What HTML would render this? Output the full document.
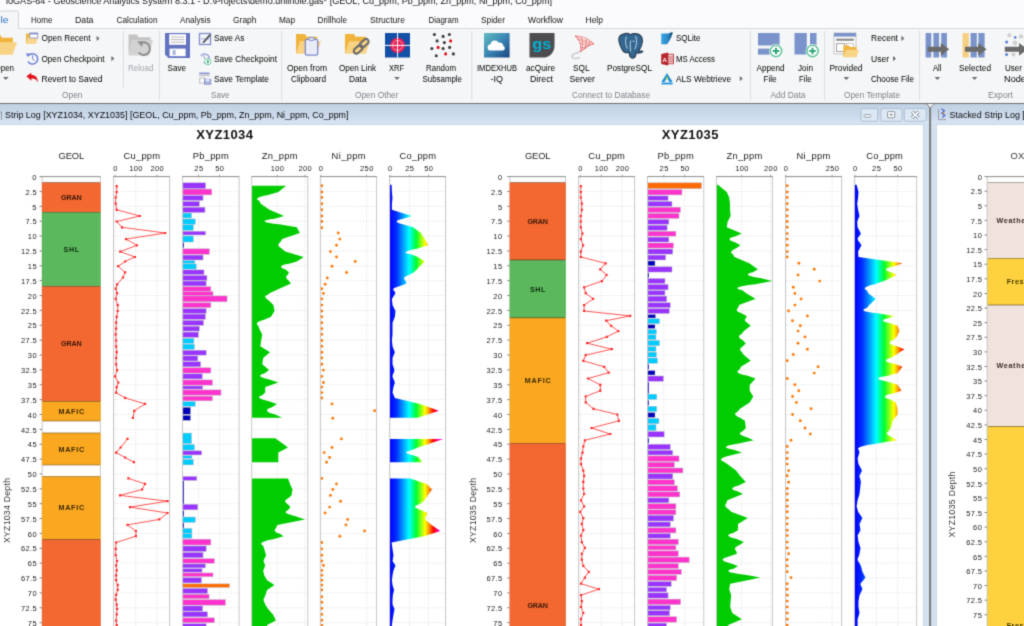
<!DOCTYPE html>
<html><head><meta charset="utf-8"><title>ioGAS</title>
<style>html,body{margin:0;padding:0;background:#fff;overflow:hidden}svg{display:block}</style></head><body>
<svg width="1024" height="626" viewBox="0 0 1024 626" font-family="'Liberation Sans', Arial, sans-serif">
<defs>
<filter id="soft" x="0" y="0" width="1024" height="626" filterUnits="userSpaceOnUse" color-interpolation-filters="sRGB"><feConvolveMatrix order="3" kernelMatrix="0.0225 0.1050 0.0225 0.1050 0.4900 0.1050 0.0225 0.1050 0.0225" edgeMode="duplicate" preserveAlpha="true"/></filter>
<linearGradient id="tb" gradientUnits="userSpaceOnUse" x1="0" y1="104" x2="0" y2="125"><stop offset="0" stop-color="#c0d1e4"/><stop offset="0.5" stop-color="#cad9ea"/><stop offset="0.92" stop-color="#d6e3f2"/><stop offset="1" stop-color="#cfdeee"/></linearGradient>
<linearGradient id="co1" gradientUnits="userSpaceOnUse" x1="390" y1="0" x2="443.9" y2="0">
<stop offset="0" stop-color="#0000ff"/><stop offset="0.12" stop-color="#0030ff"/><stop offset="0.357" stop-color="#00ffff"/><stop offset="0.486" stop-color="#00ff30"/><stop offset="0.65" stop-color="#ffff00"/><stop offset="0.72" stop-color="#ff9900"/><stop offset="0.81" stop-color="#ff0000"/><stop offset="0.92" stop-color="#ff00cc"/><stop offset="1" stop-color="#ff00ff"/></linearGradient>
<linearGradient id="co2" gradientUnits="userSpaceOnUse" x1="855.1" y1="0" x2="914.7" y2="0">
<stop offset="0" stop-color="#0000ff"/><stop offset="0.12" stop-color="#0030ff"/><stop offset="0.357" stop-color="#00ffff"/><stop offset="0.486" stop-color="#00ff30"/><stop offset="0.65" stop-color="#ffff00"/><stop offset="0.72" stop-color="#ff9900"/><stop offset="0.81" stop-color="#ff0000"/><stop offset="0.92" stop-color="#ff00cc"/><stop offset="1" stop-color="#ff00ff"/></linearGradient>
<linearGradient id="imdex" x1="0" y1="0" x2="1" y2="1"><stop offset="0" stop-color="#62bcc0"/><stop offset="0.5" stop-color="#3a86b4"/><stop offset="1" stop-color="#1b467f"/></linearGradient>
<linearGradient id="sqlite" x1="0" y1="0" x2="1" y2="0"><stop offset="0" stop-color="#3aa6e6"/><stop offset="0.6" stop-color="#2a86c4"/><stop offset="1" stop-color="#0d3f5f"/></linearGradient>
</defs>
<g filter="url(#soft)">
<rect x="0" y="0" width="1024" height="626" fill="#ffffff"/>
<rect x="0" y="0" width="1024" height="29" fill="#fbfbfd"/>
<rect x="0" y="28.5" width="1024" height="75" fill="#f5f6f7"/>
<rect x="18" y="28" width="1006" height="1" fill="#d6d9de"/>
<path d="M-2 29 V12.5 a1.5 1.5 0 0 1 1.5 -1.5 H17 a1.5 1.5 0 0 1 1.5 1.5 V29" fill="#f5f6f7" stroke="#d0d4da" stroke-width="1"/>
<text x="6" y="3.5" font-size="9.6" fill="#111" textLength="546" lengthAdjust="spacingAndGlyphs">ioGAS-64 - Geoscience Analytics System 8.3.1 - D:\Projects\demo.drillhole.gas*  [GEOL, Cu_ppm, Pb_ppm, Zn_ppm, Ni_ppm, Co_ppm]</text>
<text x="0.6" y="23.29" font-size="8.3" fill="#2b6fc4" textLength="8" lengthAdjust="spacingAndGlyphs">le</text>
<text x="31" y="23.29" font-size="8.3" fill="#141414" textLength="21.5" lengthAdjust="spacingAndGlyphs">Home</text>
<text x="75" y="23.29" font-size="8.3" fill="#141414" textLength="18.5" lengthAdjust="spacingAndGlyphs">Data</text>
<text x="116.5" y="23.29" font-size="8.3" fill="#141414" textLength="41" lengthAdjust="spacingAndGlyphs">Calculation</text>
<text x="180" y="23.29" font-size="8.3" fill="#141414" textLength="30.5" lengthAdjust="spacingAndGlyphs">Analysis</text>
<text x="233" y="23.29" font-size="8.3" fill="#141414" textLength="23.5" lengthAdjust="spacingAndGlyphs">Graph</text>
<text x="279" y="23.29" font-size="8.3" fill="#141414" textLength="16" lengthAdjust="spacingAndGlyphs">Map</text>
<text x="317.5" y="23.29" font-size="8.3" fill="#141414" textLength="29.5" lengthAdjust="spacingAndGlyphs">Drillhole</text>
<text x="370" y="23.29" font-size="8.3" fill="#141414" textLength="35" lengthAdjust="spacingAndGlyphs">Structure</text>
<text x="428.5" y="23.29" font-size="8.3" fill="#141414" textLength="30" lengthAdjust="spacingAndGlyphs">Diagram</text>
<text x="481" y="23.29" font-size="8.3" fill="#141414" textLength="24" lengthAdjust="spacingAndGlyphs">Spider</text>
<text x="528" y="23.29" font-size="8.3" fill="#141414" textLength="35" lengthAdjust="spacingAndGlyphs">Workflow</text>
<text x="585.5" y="23.29" font-size="8.3" fill="#141414" textLength="17.5" lengthAdjust="spacingAndGlyphs">Help</text>
<line x1="123.3" y1="31" x2="123.3" y2="87.5" stroke="#dcdde0" stroke-width="1"/>
<line x1="159.4" y1="31" x2="159.4" y2="100.5" stroke="#dcdde0" stroke-width="1"/>
<line x1="281.7" y1="31" x2="281.7" y2="100.5" stroke="#dcdde0" stroke-width="1"/>
<line x1="471.8" y1="31" x2="471.8" y2="100.5" stroke="#dcdde0" stroke-width="1"/>
<line x1="750.5" y1="31" x2="750.5" y2="100.5" stroke="#dcdde0" stroke-width="1"/>
<line x1="824.6" y1="31" x2="824.6" y2="100.5" stroke="#dcdde0" stroke-width="1"/>
<line x1="919.5" y1="31" x2="919.5" y2="100.5" stroke="#dcdde0" stroke-width="1"/>
<text x="62" y="97.99" font-size="8.3" fill="#7f828c" textLength="20.5" lengthAdjust="spacingAndGlyphs">Open</text>
<text x="211" y="97.99" font-size="8.3" fill="#7f828c" textLength="18.5" lengthAdjust="spacingAndGlyphs">Save</text>
<text x="355" y="97.99" font-size="8.3" fill="#7f828c" textLength="43.5" lengthAdjust="spacingAndGlyphs">Open Other</text>
<text x="572" y="97.99" font-size="8.3" fill="#7f828c" textLength="78" lengthAdjust="spacingAndGlyphs">Connect to Database</text>
<text x="770.5" y="97.99" font-size="8.3" fill="#7f828c" textLength="35" lengthAdjust="spacingAndGlyphs">Add Data</text>
<text x="844" y="97.99" font-size="8.3" fill="#7f828c" textLength="56" lengthAdjust="spacingAndGlyphs">Open Template</text>
<text x="988" y="97.99" font-size="8.3" fill="#7f828c" textLength="25" lengthAdjust="spacingAndGlyphs">Export</text>
<path d="M-9 35 h9.36 l1.56 2.8 h10.92 v16.4 h-21.84 z" fill="#f0b43c"/>
<path d="M-4.84 42.2 h21.84 l-4.42 12.4 h-21.58 z" fill="#f9d384"/>
<text x="-5.5" y="70.99" font-size="8.3" fill="#000" textLength="19.5" lengthAdjust="spacingAndGlyphs">Open</text>
<path d="M3 77.1 h5.6 l-2.8 3 z" fill="#6e6e6e"/>
<path d="M26 33.5 h4.32 l0.72 1.47 h5.04 v8.61 h-10.08 z" fill="#eeb440"/>
<path d="M27.92 37.28 h10.08 l-2.04 6.51 h-9.96 z" fill="#f8d68c"/>
<rect x="29.8" y="33" width="8" height="5" fill="#fff" stroke="#7f8cc9" stroke-width="0.8"/>
<rect x="30" y="33" width="7.8" height="1.4" fill="#7f8cc9"/>
<text x="41.5" y="41.29" font-size="8.3" fill="#000" textLength="49" lengthAdjust="spacingAndGlyphs">Open Recent</text>
<path d="M96.6 35.8 l3 2.6 l-3 2.6 z" fill="#6e6e6e"/>
<g fill="none" stroke="#6f82d8" stroke-width="1.5"><path d="M28.5 55.5 A5.2 5.2 0 1 1 28 61.5"/><path d="M32.6 55.2 v3.8 l2 1.6" stroke-width="1"/></g><path d="M26 53.2 l4.2 0.6 l-2.6 3.4 z" fill="#6f82d8"/>
<text x="41.5" y="61.59" font-size="8.3" fill="#000" textLength="63" lengthAdjust="spacingAndGlyphs">Open Checkpoint</text>
<path d="M111.4 56 l3 2.6 l-3 2.6 z" fill="#6e6e6e"/>
<path d="M26.4 76.2 l5 -3.4 v2.2 c4 0 6.6 2.4 6.4 7.6 c-1 -3 -3 -4.4 -6.4 -4.2 v2.4 z" fill="#e0141e"/>
<text x="41.5" y="81.59" font-size="8.3" fill="#000" textLength="61" lengthAdjust="spacingAndGlyphs">Revert to Saved</text>
<path d="M128.5 34.5 h8.5 l1.5 2.8 h12 v3 h-18 l-4 14 z" fill="#c4c4c4"/><path d="M131.5 40 h21.5 l-4.2 15.5 h-20.3 z" fill="#d2d2d2"/>
<path d="M140.5 43.2 A6.3 6.3 0 1 1 138.6 52.5" fill="none" stroke="#8e8e8e" stroke-width="2"/><path d="M137.2 41.5 l5.8 -0.2 l-1 5.6 z" fill="#8e8e8e"/>
<text x="128" y="70.99" font-size="8.3" fill="#a3a3ad" textLength="25.5" lengthAdjust="spacingAndGlyphs">Reload</text>
<path d="M165 33 h25 v25 h-21.5 l-3.5 -3.5 z" fill="#6373c0"/>
<rect x="169.2" y="34.2" width="16.8" height="10.6" fill="#fff"/>
<line x1="171" y1="37" x2="184.4" y2="37" stroke="#9a9a9a" stroke-width="0.7"/>
<line x1="171" y1="39.6" x2="184.4" y2="39.6" stroke="#9a9a9a" stroke-width="0.7"/>
<line x1="171" y1="42.2" x2="184.4" y2="42.2" stroke="#9a9a9a" stroke-width="0.7"/>
<rect x="169.6" y="48.6" width="16" height="7.6" fill="#fff"/>
<rect x="172.6" y="50" width="3" height="5" fill="#aab2dc"/>
<text x="167.5" y="70.99" font-size="8.3" fill="#000" textLength="18.5" lengthAdjust="spacingAndGlyphs">Save</text>
<rect x="199.5" y="33.5" width="11" height="11" fill="#f4f5fb" stroke="#7f8cc9" stroke-width="1.3"/>
<rect x="201" y="38.5" width="8" height="0.9" fill="#9aa4d6"/>
<path d="M203 41.5 l6.6 -7.4 l1.4 1.2 l-6.6 7.4 l-2 0.6 z" fill="#555"/>
<text x="214" y="41.29" font-size="8.3" fill="#000" textLength="30.5" lengthAdjust="spacingAndGlyphs">Save As</text>
<path d="M200.8 56.2 A4.4 4.4 0 1 1 203.4 62.6" fill="none" stroke="#8e9ad6" stroke-width="1.3"/><path d="M204 55 v3 l1.6 1" stroke="#8e9ad6" stroke-width="0.9" fill="none"/><circle cx="207.8" cy="61.6" r="3.1" fill="#fff" stroke="#6cc79c" stroke-width="1"/><rect x="207" y="59.9" width="1.7" height="3.4" fill="#3dab7e"/>
<text x="214" y="61.59" font-size="8.3" fill="#000" textLength="63" lengthAdjust="spacingAndGlyphs">Save Checkpoint</text>
<rect x="199.2" y="72.6" width="10.4" height="1.6" fill="#7f8cc9"/>
<rect x="199.2" y="75.2" width="10.4" height="0.8" fill="#aaa"/>
<rect x="199.8" y="78" width="5" height="5" fill="#fff" stroke="#aaa" stroke-width="0.8"/>
<rect x="204.4" y="79.2" width="6.4" height="5" fill="#a9b3e2" stroke="#7f8cc9" stroke-width="0.8"/>
<rect x="205.8" y="79.2" width="3.6" height="2" fill="#eef"/>
<text x="214" y="81.59" font-size="8.3" fill="#000" textLength="55" lengthAdjust="spacingAndGlyphs">Save Template</text>
<path d="M296 34 h9 l1.5 2.8 h10.5 v16.4 h-21 z" fill="#f0b43c"/>
<path d="M300 41.2 h21 l-4.25 12.4 h-20.75 z" fill="#f9d384"/>
<rect x="305.3" y="39.3" width="12.4" height="15.8" rx="1.6" fill="#e9ebf7" stroke="#7c89cb" stroke-width="1.3"/><rect x="309" y="37.4" width="5" height="3" rx="1" fill="#e9ebf7" stroke="#7c89cb" stroke-width="1"/>
<text x="287" y="70.99" font-size="8.3" fill="#000" textLength="40" lengthAdjust="spacingAndGlyphs">Open from</text>
<text x="291" y="81.59" font-size="8.3" fill="#000" textLength="35" lengthAdjust="spacingAndGlyphs">Clipboard</text>
<path d="M345 34 h9 l1.5 2.8 h10.5 v16.4 h-21 z" fill="#f0b43c"/>
<path d="M349 41.2 h21 l-4.25 12.4 h-20.75 z" fill="#f9d384"/>
<g fill="none" stroke="#6b6b6b" stroke-width="2.1"><rect x="-5" y="-2.6" width="10" height="5.2" rx="2.6" transform="translate(364.2 43.2) rotate(-42)"/><rect x="-5" y="-2.6" width="10" height="5.2" rx="2.6" transform="translate(358.2 49.4) rotate(-42)"/></g>
<text x="339" y="70.99" font-size="8.3" fill="#000" textLength="37" lengthAdjust="spacingAndGlyphs">Open Link</text>
<text x="349" y="81.59" font-size="8.3" fill="#000" textLength="17.5" lengthAdjust="spacingAndGlyphs">Data</text>
<rect x="385" y="33" width="25" height="24.5" fill="#134fa6"/>
<circle cx="397.6" cy="45.4" r="7.6" fill="#e91e55"/><circle cx="397.6" cy="45.4" r="5" fill="none" stroke="#f7a6bd" stroke-width="0.8"/>
<line x1="385" y1="45.4" x2="410" y2="45.4" stroke="#fff" stroke-width="1"/>
<line x1="397.6" y1="33" x2="397.6" y2="57.5" stroke="#fff" stroke-width="1"/>
<text x="389" y="70.99" font-size="8.3" fill="#000" textLength="15" lengthAdjust="spacingAndGlyphs">XRF</text>
<path d="M394.2 77.1 h5.6 l-2.8 3 z" fill="#6e6e6e"/>
<circle cx="434.38" cy="34.5" r="1.55" fill="#3c3c3c"/>
<circle cx="443.12" cy="36.38" r="1.55" fill="#3c3c3c"/>
<circle cx="449.38" cy="34.5" r="1.55" fill="#3c3c3c"/>
<circle cx="437.12" cy="40.88" r="1.55" fill="#3c3c3c"/>
<circle cx="444.38" cy="42.62" r="1.55" fill="#3c3c3c"/>
<circle cx="431.88" cy="48.62" r="1.55" fill="#3c3c3c"/>
<circle cx="443.12" cy="48.62" r="1.55" fill="#3c3c3c"/>
<circle cx="449.62" cy="47.38" r="1.55" fill="#3c3c3c"/>
<circle cx="436.25" cy="55.75" r="1.55" fill="#3c3c3c"/>
<circle cx="453.38" cy="53.88" r="1.55" fill="#3c3c3c"/>
<circle cx="450.62" cy="40.88" r="1.55" fill="#e0101a"/>
<circle cx="438.12" cy="47.38" r="1.55" fill="#e0101a"/>
<circle cx="445.62" cy="53.88" r="1.55" fill="#e0101a"/>
<text x="426" y="70.99" font-size="8.3" fill="#000" textLength="30" lengthAdjust="spacingAndGlyphs">Random</text>
<text x="422.5" y="81.59" font-size="8.3" fill="#000" textLength="39.5" lengthAdjust="spacingAndGlyphs">Subsample</text>
<rect x="484" y="33" width="25.6" height="24.5" fill="url(#imdex)"/>
<path d="M490 50.6 a3.2 3.2 0 0 1 0.6 -6.3 a4.4 4.4 0 0 1 8.2 -1.6 a3.6 3.6 0 0 1 4.6 3.4 a2.4 2.4 0 0 1 -0.4 4.5 z" fill="#fff"/>
<text x="477" y="70.99" font-size="8.3" fill="#000" textLength="40" lengthAdjust="spacingAndGlyphs">IMDEXHUB</text>
<text x="490.5" y="81.59" font-size="8.3" fill="#000" textLength="12.5" lengthAdjust="spacingAndGlyphs">-IQ</text>
<path d="M529.5 33 h25 v13 a11.5 11.5 0 0 1 -11.5 11.5 h-13.5 z" fill="#4d4d4f"/>
<text x="532.3" y="48.6" font-size="15.5" fill="#00b1d6" textLength="19" lengthAdjust="spacingAndGlyphs" font-weight="bold">gs</text>
<text x="526" y="70.99" font-size="8.3" fill="#000" textLength="29" lengthAdjust="spacingAndGlyphs">acQuire</text>
<text x="530" y="81.59" font-size="8.3" fill="#000" textLength="23" lengthAdjust="spacingAndGlyphs">Direct</text>
<g fill="none" stroke="#dd4a48" stroke-width="0.6" opacity="0.95"><path d="M575 36 c8 0 14 3 19 8 c-6 1 -11 5 -14 8 c2 -6 0 -12 -5 -16 z" fill="#fdf1f0"/><path d="M575 36 c5 3 11 5 19 8 M577 39 c4 2 9 4 14 6 M579 43 c3 1 6 2 10 3 M580 47 c2 0 4 1 6 1 M581 37 c2 4 2 10 0 15 M586 38.5 c1 3 0 8 -3 12 M590 41 c0 2 -2 5 -5 8"/></g>
<path d="M580 52 c-5 1 -9 3 -8 5 c1 2 5 1.5 8 0.6" fill="none" stroke="#c9ccd6" stroke-width="1.6"/>
<text x="573" y="70.99" font-size="8.3" fill="#000" textLength="16.5" lengthAdjust="spacingAndGlyphs">SQL</text>
<text x="569.5" y="81.59" font-size="8.3" fill="#000" textLength="25.5" lengthAdjust="spacingAndGlyphs">Server</text>
<path d="M619.5 36.5 c3 -3.5 8 -3.8 11 -1.8 c3.6 -2.2 9.6 -1.2 11.4 3 c1.4 4 -0.6 9.6 -3.2 13 c1.2 0.6 3.2 0.2 4 0.6 c-1.2 1.8 -4.4 2.2 -6.4 1.2 c-0.6 2.2 -0.4 5.4 -3.4 5.6 c-2.8 0.2 -3.6 -2.6 -3.6 -6 c-3 1.4 -6 0.4 -7.4 -3 c-1.8 -3.6 -4.2 -9 -2.4 -12.6 z" fill="#336791" stroke="#2c3e55" stroke-width="1.2"/>
<path d="M626.4 36.6 c-1.6 3.4 -0.8 8.4 1 12 M635.6 36 c1.6 3.6 1.2 9 -0.8 13.2 M630.6 40.6 c-0.6 3.6 -0.4 7.6 0 11 M632.4 41.4 c1 -0.6 1.8 -0.4 2.4 0.4" fill="none" stroke="#e4ecf5" stroke-width="0.8"/>
<text x="607" y="70.99" font-size="8.3" fill="#000" textLength="45" lengthAdjust="spacingAndGlyphs">PostgreSQL</text>
<path d="M661.2 33.4 h7.2 c1.6 -0.6 3.2 -1.4 4.4 -1.2 c-0.6 3.2 -2.6 7.8 -5.2 11.4 l-0.6 0.6 h-5.8 z" fill="url(#sqlite)"/>
<text x="676" y="41.29" font-size="8.3" fill="#000" textLength="24.5" lengthAdjust="spacingAndGlyphs">SQLite</text>
<path d="M661.2 54 l7 -1.6 v13.2 l-7 -1.6 z" fill="#b7282e"/><rect x="668" y="54.2" width="5.6" height="9.6" fill="#f3d5d6" stroke="#b7282e" stroke-width="0.8"/>
<line x1="669" y1="57" x2="673" y2="57" stroke="#b7282e" stroke-width="0.7"/>
<line x1="669" y1="59.2" x2="673" y2="59.2" stroke="#b7282e" stroke-width="0.7"/>
<line x1="669" y1="61.4" x2="673" y2="61.4" stroke="#b7282e" stroke-width="0.7"/>
<text x="662.6" y="61.6" font-size="6" fill="#fff" font-weight="bold">A</text>
<text x="676" y="61.59" font-size="8.3" fill="#000" textLength="39" lengthAdjust="spacingAndGlyphs">MS Access</text>
<path d="M667 73 l5.6 9 h-3.2 l-2.4 -4.2 l-2.4 4.2 h-3.2 z" fill="#1f8fd6"/><path d="M667 75.6 l1.4 3.6 h-2.8 z" fill="#9bd14b"/><rect x="661.6" y="82.6" width="11" height="1.8" fill="#1f8fd6"/>
<text x="676" y="81.59" font-size="8.3" fill="#000" textLength="55" lengthAdjust="spacingAndGlyphs">ALS Webtrieve</text>
<path d="M739.8 76 l3 2.6 l-3 2.6 z" fill="#6e6e6e"/>
<rect x="758" y="33" width="21.6" height="12.5" fill="#7b93cb"/>
<rect x="758" y="48.6" width="21.6" height="6" fill="#7b93cb"/>
<circle cx="776" cy="51" r="7" fill="#fff"/><circle cx="776" cy="51" r="5.7" fill="#fff" stroke="#62c39b" stroke-width="1.6"/><path d="M772.8 50 h2.2 v-2.2 h2 v2.2 h2.2 v2 h-2.2 v2.2 h-2 v-2.2 h-2.2 z" fill="#2fa678"/>
<text x="756.5" y="70.99" font-size="8.3" fill="#000" textLength="28" lengthAdjust="spacingAndGlyphs">Append</text>
<text x="763.5" y="81.59" font-size="8.3" fill="#000" textLength="13" lengthAdjust="spacingAndGlyphs">File</text>
<rect x="794.5" y="33" width="12.3" height="21.5" fill="#7b93cb"/>
<rect x="810" y="33" width="6.5" height="21.5" fill="#7b93cb"/>
<circle cx="812.5" cy="51" r="7" fill="#fff"/><circle cx="812.5" cy="51" r="5.7" fill="#fff" stroke="#62c39b" stroke-width="1.6"/><path d="M809.3 50 h2.2 v-2.2 h2 v2.2 h2.2 v2 h-2.2 v2.2 h-2 v-2.2 h-2.2 z" fill="#2fa678"/>
<text x="798" y="70.99" font-size="8.3" fill="#000" textLength="15" lengthAdjust="spacingAndGlyphs">Join</text>
<text x="799" y="81.59" font-size="8.3" fill="#000" textLength="12.5" lengthAdjust="spacingAndGlyphs">File</text>
<rect x="834" y="33" width="22" height="21" fill="#fbfbfb" stroke="#b9b9b9" stroke-width="0.8"/>
<rect x="834" y="33" width="22" height="3.6" fill="#7b93cb"/>
<rect x="836.2" y="38.6" width="17.6" height="2.2" fill="#8c8c8c"/>
<rect x="836.6" y="43.6" width="8" height="8" fill="#fff" stroke="#9a9a9a" stroke-width="0.9"/>
<rect x="846.6" y="43.6" width="7" height="4" fill="#fff" stroke="#b5b5b5" stroke-width="0.7"/>
<path d="M843.4 45.4 h5.62 l0.94 1.68 h6.55 v9.84 h-13.1 z" fill="#eeb440"/>
<path d="M845.9 49.72 h13.1 l-2.65 7.44 h-12.95 z" fill="#f8d486"/>
<text x="829.5" y="70.99" font-size="8.3" fill="#000" textLength="33" lengthAdjust="spacingAndGlyphs">Provided</text>
<path d="M843.5 77.1 h5.6 l-2.8 3 z" fill="#6e6e6e"/>
<text x="871" y="41.29" font-size="8.3" fill="#000" textLength="27" lengthAdjust="spacingAndGlyphs">Recent</text>
<path d="M901.4 35.8 l3 2.6 l-3 2.6 z" fill="#6e6e6e"/>
<text x="871" y="61.59" font-size="8.3" fill="#000" textLength="18" lengthAdjust="spacingAndGlyphs">User</text>
<path d="M893 56 l3 2.6 l-3 2.6 z" fill="#6e6e6e"/>
<text x="871" y="81.59" font-size="8.3" fill="#000" textLength="43" lengthAdjust="spacingAndGlyphs">Choose File</text>
<rect x="925.6" y="33" width="5.7" height="24.5" fill="#7b93cb"/>
<rect x="933.4" y="33" width="5.7" height="24.5" fill="#7b93cb"/>
<rect x="941.2" y="33" width="5.7" height="24.5" fill="#7b93cb"/>
<path d="M927.6 46.8 H940.8 V42.9 L949.2 49.3 L940.8 55.7 V51.8 H927.6 z" fill="#6a6a6a"/>
<text x="933" y="70.99" font-size="8.3" fill="#000" textLength="8.5" lengthAdjust="spacingAndGlyphs">All</text>
<path d="M934.6 77.1 h5.6 l-2.8 3 z" fill="#6e6e6e"/>
<rect x="962.6" y="33" width="6.2" height="24.5" fill="#f6d081"/>
<rect x="970.6" y="33" width="6.2" height="24.5" fill="#7b93cb"/>
<rect x="978.4" y="33" width="6.2" height="24.5" fill="#7b93cb"/>
<path d="M965 46.8 H978.2 V42.9 L986.6 49.3 L978.2 55.7 V51.8 H965 z" fill="#6a6a6a"/>
<text x="959" y="70.99" font-size="8.3" fill="#000" textLength="32" lengthAdjust="spacingAndGlyphs">Selected</text>
<path d="M971.8 77.1 h5.6 l-2.8 3 z" fill="#6e6e6e"/>
<circle cx="1009.4" cy="35.2" r="2" fill="#cfcfcf"/>
<circle cx="1015.2" cy="37.4" r="1.3" fill="#5c7fd6"/>
<circle cx="1021" cy="36.4" r="2.2" fill="#cfcfcf"/>
<circle cx="1006.6" cy="42" r="1.5" fill="#5c7fd6"/>
<circle cx="1015" cy="43" r="2.4" fill="#cfcfcf"/>
<circle cx="1006.6" cy="54.6" r="1.5" fill="#5c7fd6"/>
<circle cx="1013.4" cy="54.6" r="2" fill="#cfcfcf"/>
<path d="M1004.8 46.8 H1019 V42.9 L1027.4 49.3 L1019 55.7 V51.8 H1004.8 z" fill="#6a6a6a"/>
<text x="1005" y="70.99" font-size="8.3" fill="#000" textLength="17" lengthAdjust="spacingAndGlyphs">User</text>
<text x="1004" y="81.59" font-size="8.3" fill="#000" textLength="22" lengthAdjust="spacingAndGlyphs">Node</text>
<path d="M-6 640 V109 a5 5 0 0 1 5 -5 H924.7 a5 5 0 0 1 5 5 V640 z" fill="url(#tb)"/>
<rect x="-6" y="124.8" width="935.5" height="520" fill="#d3e1f1"/>
<rect x="-1" y="124.4" width="924.6" height="520" fill="#b9c9db"/>
<rect x="0" y="124.9" width="923.1" height="520" fill="#ffffff"/>
<path d="M930.6 640 V109 a5 5 0 0 1 5 -5 H1040 V640 z" fill="url(#tb)"/>
<rect x="930.5" y="124.8" width="100" height="520" fill="#d3e1f1"/>
<rect x="936.1" y="124.4" width="100" height="520" fill="#b9c9db"/>
<rect x="936.7" y="124.9" width="100" height="520" fill="#ffffff"/>
<path d="M-6 103.5 H924.2 a5.5 5.5 0 0 1 5.5 5.5 V640" fill="none" stroke="#707070" stroke-width="1"/>
<path d="M1040 103.5 H936.1 a5.5 5.5 0 0 0 -5.5 5.5 V640" fill="none" stroke="#707070" stroke-width="1"/>
<line x1="0" y1="103.5" x2="1024" y2="103.5" stroke="#707070" stroke-width="1"/>
<path d="M926.6 104 q3.8 0.4 3.9 4.6 q0.1 -4.2 3.9 -4.6 z" fill="#fdfdfd"/>
<path d="M-1 112 l2.5 0 l0 8" fill="none" stroke="#8a8a8a" stroke-width="0.8"/>
<text x="5" y="118.4" font-size="9.2" fill="#0a0a0a" textLength="343.5" lengthAdjust="spacingAndGlyphs">Strip Log [XYZ1034, XYZ1035] [GEOL, Cu_ppm, Pb_ppm, Zn_ppm, Ni_ppm, Co_ppm]</text>
<path d="M941.4 108.6 l3 2.2 l-2.6 2.4 l3 2.2 l-2.4 2.2" fill="none" stroke="#3b50c8" stroke-width="1.1"/><path d="M938.6 109 v10.6 h7.4" fill="none" stroke="#8a8a8a" stroke-width="0.8"/><circle cx="943.6" cy="113" r="0.9" fill="#f0a020"/>
<text x="949.6" y="118.4" font-size="9.2" fill="#0a0a0a" textLength="114.8" lengthAdjust="spacingAndGlyphs">Stacked Strip Log [XYZ1035]</text>
<rect x="861" y="108.6" width="16.6" height="12.6" rx="2" fill="#dde8f5" stroke="#a9bbd0" stroke-width="0.9"/>
<rect x="880.8" y="108.6" width="21.2" height="12.6" rx="2" fill="#dde8f5" stroke="#a9bbd0" stroke-width="0.9"/>
<rect x="904.4" y="108.6" width="21.8" height="12.6" rx="2" fill="#dde8f5" stroke="#a9bbd0" stroke-width="0.9"/>
<rect x="864.2" y="114.6" width="6.4" height="2.6" rx="0.8" fill="#fdfdfd" stroke="#7d8a99" stroke-width="0.8"/>
<rect x="887.6" y="111.6" width="7.2" height="6.2" rx="0.8" fill="#fdfdfd" stroke="#7d8a99" stroke-width="0.9"/><rect x="889.8" y="113.8" width="2.8" height="1.6" fill="#7d8a99"/>
<path d="M912 111.6 l6.6 6.4 M918.6 111.6 l-6.6 6.4" stroke="#7d8a99" stroke-width="3.2" fill="none"/><path d="M912 111.6 l6.6 6.4 M918.6 111.6 l-6.6 6.4" stroke="#fdfdfd" stroke-width="1.7" fill="none"/>
<text x="196.3" y="139.3" font-size="13" fill="#111" textLength="56.6" lengthAdjust="spacing" font-weight="bold">XYZ1034</text>
<line x1="114" y1="191.47" x2="169.1" y2="191.47" stroke="#dcdcdc" stroke-width="0.7" stroke-dasharray="1.4 1.4"/>
<line x1="114" y1="206.33" x2="169.1" y2="206.33" stroke="#dcdcdc" stroke-width="0.7" stroke-dasharray="1.4 1.4"/>
<line x1="114" y1="221.2" x2="169.1" y2="221.2" stroke="#dcdcdc" stroke-width="0.7" stroke-dasharray="1.4 1.4"/>
<line x1="114" y1="236.07" x2="169.1" y2="236.07" stroke="#dcdcdc" stroke-width="0.7" stroke-dasharray="1.4 1.4"/>
<line x1="114" y1="250.94" x2="169.1" y2="250.94" stroke="#dcdcdc" stroke-width="0.7" stroke-dasharray="1.4 1.4"/>
<line x1="114" y1="265.81" x2="169.1" y2="265.81" stroke="#dcdcdc" stroke-width="0.7" stroke-dasharray="1.4 1.4"/>
<line x1="114" y1="280.67" x2="169.1" y2="280.67" stroke="#dcdcdc" stroke-width="0.7" stroke-dasharray="1.4 1.4"/>
<line x1="114" y1="295.54" x2="169.1" y2="295.54" stroke="#dcdcdc" stroke-width="0.7" stroke-dasharray="1.4 1.4"/>
<line x1="114" y1="310.41" x2="169.1" y2="310.41" stroke="#dcdcdc" stroke-width="0.7" stroke-dasharray="1.4 1.4"/>
<line x1="114" y1="325.27" x2="169.1" y2="325.27" stroke="#dcdcdc" stroke-width="0.7" stroke-dasharray="1.4 1.4"/>
<line x1="114" y1="340.14" x2="169.1" y2="340.14" stroke="#dcdcdc" stroke-width="0.7" stroke-dasharray="1.4 1.4"/>
<line x1="114" y1="355.01" x2="169.1" y2="355.01" stroke="#dcdcdc" stroke-width="0.7" stroke-dasharray="1.4 1.4"/>
<line x1="114" y1="369.88" x2="169.1" y2="369.88" stroke="#dcdcdc" stroke-width="0.7" stroke-dasharray="1.4 1.4"/>
<line x1="114" y1="384.75" x2="169.1" y2="384.75" stroke="#dcdcdc" stroke-width="0.7" stroke-dasharray="1.4 1.4"/>
<line x1="114" y1="399.61" x2="169.1" y2="399.61" stroke="#dcdcdc" stroke-width="0.7" stroke-dasharray="1.4 1.4"/>
<line x1="114" y1="414.48" x2="169.1" y2="414.48" stroke="#dcdcdc" stroke-width="0.7" stroke-dasharray="1.4 1.4"/>
<line x1="114" y1="429.35" x2="169.1" y2="429.35" stroke="#dcdcdc" stroke-width="0.7" stroke-dasharray="1.4 1.4"/>
<line x1="114" y1="444.22" x2="169.1" y2="444.22" stroke="#dcdcdc" stroke-width="0.7" stroke-dasharray="1.4 1.4"/>
<line x1="114" y1="459.08" x2="169.1" y2="459.08" stroke="#dcdcdc" stroke-width="0.7" stroke-dasharray="1.4 1.4"/>
<line x1="114" y1="473.95" x2="169.1" y2="473.95" stroke="#dcdcdc" stroke-width="0.7" stroke-dasharray="1.4 1.4"/>
<line x1="114" y1="488.82" x2="169.1" y2="488.82" stroke="#dcdcdc" stroke-width="0.7" stroke-dasharray="1.4 1.4"/>
<line x1="114" y1="503.68" x2="169.1" y2="503.68" stroke="#dcdcdc" stroke-width="0.7" stroke-dasharray="1.4 1.4"/>
<line x1="114" y1="518.55" x2="169.1" y2="518.55" stroke="#dcdcdc" stroke-width="0.7" stroke-dasharray="1.4 1.4"/>
<line x1="114" y1="533.42" x2="169.1" y2="533.42" stroke="#dcdcdc" stroke-width="0.7" stroke-dasharray="1.4 1.4"/>
<line x1="114" y1="548.29" x2="169.1" y2="548.29" stroke="#dcdcdc" stroke-width="0.7" stroke-dasharray="1.4 1.4"/>
<line x1="114" y1="563.15" x2="169.1" y2="563.15" stroke="#dcdcdc" stroke-width="0.7" stroke-dasharray="1.4 1.4"/>
<line x1="114" y1="578.02" x2="169.1" y2="578.02" stroke="#dcdcdc" stroke-width="0.7" stroke-dasharray="1.4 1.4"/>
<line x1="114" y1="592.89" x2="169.1" y2="592.89" stroke="#dcdcdc" stroke-width="0.7" stroke-dasharray="1.4 1.4"/>
<line x1="114" y1="607.76" x2="169.1" y2="607.76" stroke="#dcdcdc" stroke-width="0.7" stroke-dasharray="1.4 1.4"/>
<line x1="114" y1="622.62" x2="169.1" y2="622.62" stroke="#dcdcdc" stroke-width="0.7" stroke-dasharray="1.4 1.4"/>
<line x1="115.2" y1="177.1" x2="115.2" y2="626" stroke="#dcdcdc" stroke-width="0.7" stroke-dasharray="1.4 1.4"/>
<line x1="135.7" y1="177.1" x2="135.7" y2="626" stroke="#dcdcdc" stroke-width="0.7" stroke-dasharray="1.4 1.4"/>
<line x1="157" y1="177.1" x2="157" y2="626" stroke="#dcdcdc" stroke-width="0.7" stroke-dasharray="1.4 1.4"/>
<line x1="183" y1="191.47" x2="238.6" y2="191.47" stroke="#dcdcdc" stroke-width="0.7" stroke-dasharray="1.4 1.4"/>
<line x1="183" y1="206.33" x2="238.6" y2="206.33" stroke="#dcdcdc" stroke-width="0.7" stroke-dasharray="1.4 1.4"/>
<line x1="183" y1="221.2" x2="238.6" y2="221.2" stroke="#dcdcdc" stroke-width="0.7" stroke-dasharray="1.4 1.4"/>
<line x1="183" y1="236.07" x2="238.6" y2="236.07" stroke="#dcdcdc" stroke-width="0.7" stroke-dasharray="1.4 1.4"/>
<line x1="183" y1="250.94" x2="238.6" y2="250.94" stroke="#dcdcdc" stroke-width="0.7" stroke-dasharray="1.4 1.4"/>
<line x1="183" y1="265.81" x2="238.6" y2="265.81" stroke="#dcdcdc" stroke-width="0.7" stroke-dasharray="1.4 1.4"/>
<line x1="183" y1="280.67" x2="238.6" y2="280.67" stroke="#dcdcdc" stroke-width="0.7" stroke-dasharray="1.4 1.4"/>
<line x1="183" y1="295.54" x2="238.6" y2="295.54" stroke="#dcdcdc" stroke-width="0.7" stroke-dasharray="1.4 1.4"/>
<line x1="183" y1="310.41" x2="238.6" y2="310.41" stroke="#dcdcdc" stroke-width="0.7" stroke-dasharray="1.4 1.4"/>
<line x1="183" y1="325.27" x2="238.6" y2="325.27" stroke="#dcdcdc" stroke-width="0.7" stroke-dasharray="1.4 1.4"/>
<line x1="183" y1="340.14" x2="238.6" y2="340.14" stroke="#dcdcdc" stroke-width="0.7" stroke-dasharray="1.4 1.4"/>
<line x1="183" y1="355.01" x2="238.6" y2="355.01" stroke="#dcdcdc" stroke-width="0.7" stroke-dasharray="1.4 1.4"/>
<line x1="183" y1="369.88" x2="238.6" y2="369.88" stroke="#dcdcdc" stroke-width="0.7" stroke-dasharray="1.4 1.4"/>
<line x1="183" y1="384.75" x2="238.6" y2="384.75" stroke="#dcdcdc" stroke-width="0.7" stroke-dasharray="1.4 1.4"/>
<line x1="183" y1="399.61" x2="238.6" y2="399.61" stroke="#dcdcdc" stroke-width="0.7" stroke-dasharray="1.4 1.4"/>
<line x1="183" y1="414.48" x2="238.6" y2="414.48" stroke="#dcdcdc" stroke-width="0.7" stroke-dasharray="1.4 1.4"/>
<line x1="183" y1="429.35" x2="238.6" y2="429.35" stroke="#dcdcdc" stroke-width="0.7" stroke-dasharray="1.4 1.4"/>
<line x1="183" y1="444.22" x2="238.6" y2="444.22" stroke="#dcdcdc" stroke-width="0.7" stroke-dasharray="1.4 1.4"/>
<line x1="183" y1="459.08" x2="238.6" y2="459.08" stroke="#dcdcdc" stroke-width="0.7" stroke-dasharray="1.4 1.4"/>
<line x1="183" y1="473.95" x2="238.6" y2="473.95" stroke="#dcdcdc" stroke-width="0.7" stroke-dasharray="1.4 1.4"/>
<line x1="183" y1="488.82" x2="238.6" y2="488.82" stroke="#dcdcdc" stroke-width="0.7" stroke-dasharray="1.4 1.4"/>
<line x1="183" y1="503.68" x2="238.6" y2="503.68" stroke="#dcdcdc" stroke-width="0.7" stroke-dasharray="1.4 1.4"/>
<line x1="183" y1="518.55" x2="238.6" y2="518.55" stroke="#dcdcdc" stroke-width="0.7" stroke-dasharray="1.4 1.4"/>
<line x1="183" y1="533.42" x2="238.6" y2="533.42" stroke="#dcdcdc" stroke-width="0.7" stroke-dasharray="1.4 1.4"/>
<line x1="183" y1="548.29" x2="238.6" y2="548.29" stroke="#dcdcdc" stroke-width="0.7" stroke-dasharray="1.4 1.4"/>
<line x1="183" y1="563.15" x2="238.6" y2="563.15" stroke="#dcdcdc" stroke-width="0.7" stroke-dasharray="1.4 1.4"/>
<line x1="183" y1="578.02" x2="238.6" y2="578.02" stroke="#dcdcdc" stroke-width="0.7" stroke-dasharray="1.4 1.4"/>
<line x1="183" y1="592.89" x2="238.6" y2="592.89" stroke="#dcdcdc" stroke-width="0.7" stroke-dasharray="1.4 1.4"/>
<line x1="183" y1="607.76" x2="238.6" y2="607.76" stroke="#dcdcdc" stroke-width="0.7" stroke-dasharray="1.4 1.4"/>
<line x1="183" y1="622.62" x2="238.6" y2="622.62" stroke="#dcdcdc" stroke-width="0.7" stroke-dasharray="1.4 1.4"/>
<line x1="198.6" y1="177.1" x2="198.6" y2="626" stroke="#dcdcdc" stroke-width="0.7" stroke-dasharray="1.4 1.4"/>
<line x1="219.5" y1="177.1" x2="219.5" y2="626" stroke="#dcdcdc" stroke-width="0.7" stroke-dasharray="1.4 1.4"/>
<line x1="252.2" y1="191.47" x2="307.3" y2="191.47" stroke="#dcdcdc" stroke-width="0.7" stroke-dasharray="1.4 1.4"/>
<line x1="252.2" y1="206.33" x2="307.3" y2="206.33" stroke="#dcdcdc" stroke-width="0.7" stroke-dasharray="1.4 1.4"/>
<line x1="252.2" y1="221.2" x2="307.3" y2="221.2" stroke="#dcdcdc" stroke-width="0.7" stroke-dasharray="1.4 1.4"/>
<line x1="252.2" y1="236.07" x2="307.3" y2="236.07" stroke="#dcdcdc" stroke-width="0.7" stroke-dasharray="1.4 1.4"/>
<line x1="252.2" y1="250.94" x2="307.3" y2="250.94" stroke="#dcdcdc" stroke-width="0.7" stroke-dasharray="1.4 1.4"/>
<line x1="252.2" y1="265.81" x2="307.3" y2="265.81" stroke="#dcdcdc" stroke-width="0.7" stroke-dasharray="1.4 1.4"/>
<line x1="252.2" y1="280.67" x2="307.3" y2="280.67" stroke="#dcdcdc" stroke-width="0.7" stroke-dasharray="1.4 1.4"/>
<line x1="252.2" y1="295.54" x2="307.3" y2="295.54" stroke="#dcdcdc" stroke-width="0.7" stroke-dasharray="1.4 1.4"/>
<line x1="252.2" y1="310.41" x2="307.3" y2="310.41" stroke="#dcdcdc" stroke-width="0.7" stroke-dasharray="1.4 1.4"/>
<line x1="252.2" y1="325.27" x2="307.3" y2="325.27" stroke="#dcdcdc" stroke-width="0.7" stroke-dasharray="1.4 1.4"/>
<line x1="252.2" y1="340.14" x2="307.3" y2="340.14" stroke="#dcdcdc" stroke-width="0.7" stroke-dasharray="1.4 1.4"/>
<line x1="252.2" y1="355.01" x2="307.3" y2="355.01" stroke="#dcdcdc" stroke-width="0.7" stroke-dasharray="1.4 1.4"/>
<line x1="252.2" y1="369.88" x2="307.3" y2="369.88" stroke="#dcdcdc" stroke-width="0.7" stroke-dasharray="1.4 1.4"/>
<line x1="252.2" y1="384.75" x2="307.3" y2="384.75" stroke="#dcdcdc" stroke-width="0.7" stroke-dasharray="1.4 1.4"/>
<line x1="252.2" y1="399.61" x2="307.3" y2="399.61" stroke="#dcdcdc" stroke-width="0.7" stroke-dasharray="1.4 1.4"/>
<line x1="252.2" y1="414.48" x2="307.3" y2="414.48" stroke="#dcdcdc" stroke-width="0.7" stroke-dasharray="1.4 1.4"/>
<line x1="252.2" y1="429.35" x2="307.3" y2="429.35" stroke="#dcdcdc" stroke-width="0.7" stroke-dasharray="1.4 1.4"/>
<line x1="252.2" y1="444.22" x2="307.3" y2="444.22" stroke="#dcdcdc" stroke-width="0.7" stroke-dasharray="1.4 1.4"/>
<line x1="252.2" y1="459.08" x2="307.3" y2="459.08" stroke="#dcdcdc" stroke-width="0.7" stroke-dasharray="1.4 1.4"/>
<line x1="252.2" y1="473.95" x2="307.3" y2="473.95" stroke="#dcdcdc" stroke-width="0.7" stroke-dasharray="1.4 1.4"/>
<line x1="252.2" y1="488.82" x2="307.3" y2="488.82" stroke="#dcdcdc" stroke-width="0.7" stroke-dasharray="1.4 1.4"/>
<line x1="252.2" y1="503.68" x2="307.3" y2="503.68" stroke="#dcdcdc" stroke-width="0.7" stroke-dasharray="1.4 1.4"/>
<line x1="252.2" y1="518.55" x2="307.3" y2="518.55" stroke="#dcdcdc" stroke-width="0.7" stroke-dasharray="1.4 1.4"/>
<line x1="252.2" y1="533.42" x2="307.3" y2="533.42" stroke="#dcdcdc" stroke-width="0.7" stroke-dasharray="1.4 1.4"/>
<line x1="252.2" y1="548.29" x2="307.3" y2="548.29" stroke="#dcdcdc" stroke-width="0.7" stroke-dasharray="1.4 1.4"/>
<line x1="252.2" y1="563.15" x2="307.3" y2="563.15" stroke="#dcdcdc" stroke-width="0.7" stroke-dasharray="1.4 1.4"/>
<line x1="252.2" y1="578.02" x2="307.3" y2="578.02" stroke="#dcdcdc" stroke-width="0.7" stroke-dasharray="1.4 1.4"/>
<line x1="252.2" y1="592.89" x2="307.3" y2="592.89" stroke="#dcdcdc" stroke-width="0.7" stroke-dasharray="1.4 1.4"/>
<line x1="252.2" y1="607.76" x2="307.3" y2="607.76" stroke="#dcdcdc" stroke-width="0.7" stroke-dasharray="1.4 1.4"/>
<line x1="252.2" y1="622.62" x2="307.3" y2="622.62" stroke="#dcdcdc" stroke-width="0.7" stroke-dasharray="1.4 1.4"/>
<line x1="277.3" y1="177.1" x2="277.3" y2="626" stroke="#dcdcdc" stroke-width="0.7" stroke-dasharray="1.4 1.4"/>
<line x1="305" y1="177.1" x2="305" y2="626" stroke="#dcdcdc" stroke-width="0.7" stroke-dasharray="1.4 1.4"/>
<line x1="320.9" y1="191.47" x2="376.1" y2="191.47" stroke="#dcdcdc" stroke-width="0.7" stroke-dasharray="1.4 1.4"/>
<line x1="320.9" y1="206.33" x2="376.1" y2="206.33" stroke="#dcdcdc" stroke-width="0.7" stroke-dasharray="1.4 1.4"/>
<line x1="320.9" y1="221.2" x2="376.1" y2="221.2" stroke="#dcdcdc" stroke-width="0.7" stroke-dasharray="1.4 1.4"/>
<line x1="320.9" y1="236.07" x2="376.1" y2="236.07" stroke="#dcdcdc" stroke-width="0.7" stroke-dasharray="1.4 1.4"/>
<line x1="320.9" y1="250.94" x2="376.1" y2="250.94" stroke="#dcdcdc" stroke-width="0.7" stroke-dasharray="1.4 1.4"/>
<line x1="320.9" y1="265.81" x2="376.1" y2="265.81" stroke="#dcdcdc" stroke-width="0.7" stroke-dasharray="1.4 1.4"/>
<line x1="320.9" y1="280.67" x2="376.1" y2="280.67" stroke="#dcdcdc" stroke-width="0.7" stroke-dasharray="1.4 1.4"/>
<line x1="320.9" y1="295.54" x2="376.1" y2="295.54" stroke="#dcdcdc" stroke-width="0.7" stroke-dasharray="1.4 1.4"/>
<line x1="320.9" y1="310.41" x2="376.1" y2="310.41" stroke="#dcdcdc" stroke-width="0.7" stroke-dasharray="1.4 1.4"/>
<line x1="320.9" y1="325.27" x2="376.1" y2="325.27" stroke="#dcdcdc" stroke-width="0.7" stroke-dasharray="1.4 1.4"/>
<line x1="320.9" y1="340.14" x2="376.1" y2="340.14" stroke="#dcdcdc" stroke-width="0.7" stroke-dasharray="1.4 1.4"/>
<line x1="320.9" y1="355.01" x2="376.1" y2="355.01" stroke="#dcdcdc" stroke-width="0.7" stroke-dasharray="1.4 1.4"/>
<line x1="320.9" y1="369.88" x2="376.1" y2="369.88" stroke="#dcdcdc" stroke-width="0.7" stroke-dasharray="1.4 1.4"/>
<line x1="320.9" y1="384.75" x2="376.1" y2="384.75" stroke="#dcdcdc" stroke-width="0.7" stroke-dasharray="1.4 1.4"/>
<line x1="320.9" y1="399.61" x2="376.1" y2="399.61" stroke="#dcdcdc" stroke-width="0.7" stroke-dasharray="1.4 1.4"/>
<line x1="320.9" y1="414.48" x2="376.1" y2="414.48" stroke="#dcdcdc" stroke-width="0.7" stroke-dasharray="1.4 1.4"/>
<line x1="320.9" y1="429.35" x2="376.1" y2="429.35" stroke="#dcdcdc" stroke-width="0.7" stroke-dasharray="1.4 1.4"/>
<line x1="320.9" y1="444.22" x2="376.1" y2="444.22" stroke="#dcdcdc" stroke-width="0.7" stroke-dasharray="1.4 1.4"/>
<line x1="320.9" y1="459.08" x2="376.1" y2="459.08" stroke="#dcdcdc" stroke-width="0.7" stroke-dasharray="1.4 1.4"/>
<line x1="320.9" y1="473.95" x2="376.1" y2="473.95" stroke="#dcdcdc" stroke-width="0.7" stroke-dasharray="1.4 1.4"/>
<line x1="320.9" y1="488.82" x2="376.1" y2="488.82" stroke="#dcdcdc" stroke-width="0.7" stroke-dasharray="1.4 1.4"/>
<line x1="320.9" y1="503.68" x2="376.1" y2="503.68" stroke="#dcdcdc" stroke-width="0.7" stroke-dasharray="1.4 1.4"/>
<line x1="320.9" y1="518.55" x2="376.1" y2="518.55" stroke="#dcdcdc" stroke-width="0.7" stroke-dasharray="1.4 1.4"/>
<line x1="320.9" y1="533.42" x2="376.1" y2="533.42" stroke="#dcdcdc" stroke-width="0.7" stroke-dasharray="1.4 1.4"/>
<line x1="320.9" y1="548.29" x2="376.1" y2="548.29" stroke="#dcdcdc" stroke-width="0.7" stroke-dasharray="1.4 1.4"/>
<line x1="320.9" y1="563.15" x2="376.1" y2="563.15" stroke="#dcdcdc" stroke-width="0.7" stroke-dasharray="1.4 1.4"/>
<line x1="320.9" y1="578.02" x2="376.1" y2="578.02" stroke="#dcdcdc" stroke-width="0.7" stroke-dasharray="1.4 1.4"/>
<line x1="320.9" y1="592.89" x2="376.1" y2="592.89" stroke="#dcdcdc" stroke-width="0.7" stroke-dasharray="1.4 1.4"/>
<line x1="320.9" y1="607.76" x2="376.1" y2="607.76" stroke="#dcdcdc" stroke-width="0.7" stroke-dasharray="1.4 1.4"/>
<line x1="320.9" y1="622.62" x2="376.1" y2="622.62" stroke="#dcdcdc" stroke-width="0.7" stroke-dasharray="1.4 1.4"/>
<line x1="320.8" y1="177.1" x2="320.8" y2="626" stroke="#dcdcdc" stroke-width="0.7" stroke-dasharray="1.4 1.4"/>
<line x1="366.6" y1="177.1" x2="366.6" y2="626" stroke="#dcdcdc" stroke-width="0.7" stroke-dasharray="1.4 1.4"/>
<line x1="390.1" y1="191.47" x2="445.1" y2="191.47" stroke="#dcdcdc" stroke-width="0.7" stroke-dasharray="1.4 1.4"/>
<line x1="390.1" y1="206.33" x2="445.1" y2="206.33" stroke="#dcdcdc" stroke-width="0.7" stroke-dasharray="1.4 1.4"/>
<line x1="390.1" y1="221.2" x2="445.1" y2="221.2" stroke="#dcdcdc" stroke-width="0.7" stroke-dasharray="1.4 1.4"/>
<line x1="390.1" y1="236.07" x2="445.1" y2="236.07" stroke="#dcdcdc" stroke-width="0.7" stroke-dasharray="1.4 1.4"/>
<line x1="390.1" y1="250.94" x2="445.1" y2="250.94" stroke="#dcdcdc" stroke-width="0.7" stroke-dasharray="1.4 1.4"/>
<line x1="390.1" y1="265.81" x2="445.1" y2="265.81" stroke="#dcdcdc" stroke-width="0.7" stroke-dasharray="1.4 1.4"/>
<line x1="390.1" y1="280.67" x2="445.1" y2="280.67" stroke="#dcdcdc" stroke-width="0.7" stroke-dasharray="1.4 1.4"/>
<line x1="390.1" y1="295.54" x2="445.1" y2="295.54" stroke="#dcdcdc" stroke-width="0.7" stroke-dasharray="1.4 1.4"/>
<line x1="390.1" y1="310.41" x2="445.1" y2="310.41" stroke="#dcdcdc" stroke-width="0.7" stroke-dasharray="1.4 1.4"/>
<line x1="390.1" y1="325.27" x2="445.1" y2="325.27" stroke="#dcdcdc" stroke-width="0.7" stroke-dasharray="1.4 1.4"/>
<line x1="390.1" y1="340.14" x2="445.1" y2="340.14" stroke="#dcdcdc" stroke-width="0.7" stroke-dasharray="1.4 1.4"/>
<line x1="390.1" y1="355.01" x2="445.1" y2="355.01" stroke="#dcdcdc" stroke-width="0.7" stroke-dasharray="1.4 1.4"/>
<line x1="390.1" y1="369.88" x2="445.1" y2="369.88" stroke="#dcdcdc" stroke-width="0.7" stroke-dasharray="1.4 1.4"/>
<line x1="390.1" y1="384.75" x2="445.1" y2="384.75" stroke="#dcdcdc" stroke-width="0.7" stroke-dasharray="1.4 1.4"/>
<line x1="390.1" y1="399.61" x2="445.1" y2="399.61" stroke="#dcdcdc" stroke-width="0.7" stroke-dasharray="1.4 1.4"/>
<line x1="390.1" y1="414.48" x2="445.1" y2="414.48" stroke="#dcdcdc" stroke-width="0.7" stroke-dasharray="1.4 1.4"/>
<line x1="390.1" y1="429.35" x2="445.1" y2="429.35" stroke="#dcdcdc" stroke-width="0.7" stroke-dasharray="1.4 1.4"/>
<line x1="390.1" y1="444.22" x2="445.1" y2="444.22" stroke="#dcdcdc" stroke-width="0.7" stroke-dasharray="1.4 1.4"/>
<line x1="390.1" y1="459.08" x2="445.1" y2="459.08" stroke="#dcdcdc" stroke-width="0.7" stroke-dasharray="1.4 1.4"/>
<line x1="390.1" y1="473.95" x2="445.1" y2="473.95" stroke="#dcdcdc" stroke-width="0.7" stroke-dasharray="1.4 1.4"/>
<line x1="390.1" y1="488.82" x2="445.1" y2="488.82" stroke="#dcdcdc" stroke-width="0.7" stroke-dasharray="1.4 1.4"/>
<line x1="390.1" y1="503.68" x2="445.1" y2="503.68" stroke="#dcdcdc" stroke-width="0.7" stroke-dasharray="1.4 1.4"/>
<line x1="390.1" y1="518.55" x2="445.1" y2="518.55" stroke="#dcdcdc" stroke-width="0.7" stroke-dasharray="1.4 1.4"/>
<line x1="390.1" y1="533.42" x2="445.1" y2="533.42" stroke="#dcdcdc" stroke-width="0.7" stroke-dasharray="1.4 1.4"/>
<line x1="390.1" y1="548.29" x2="445.1" y2="548.29" stroke="#dcdcdc" stroke-width="0.7" stroke-dasharray="1.4 1.4"/>
<line x1="390.1" y1="563.15" x2="445.1" y2="563.15" stroke="#dcdcdc" stroke-width="0.7" stroke-dasharray="1.4 1.4"/>
<line x1="390.1" y1="578.02" x2="445.1" y2="578.02" stroke="#dcdcdc" stroke-width="0.7" stroke-dasharray="1.4 1.4"/>
<line x1="390.1" y1="592.89" x2="445.1" y2="592.89" stroke="#dcdcdc" stroke-width="0.7" stroke-dasharray="1.4 1.4"/>
<line x1="390.1" y1="607.76" x2="445.1" y2="607.76" stroke="#dcdcdc" stroke-width="0.7" stroke-dasharray="1.4 1.4"/>
<line x1="390.1" y1="622.62" x2="445.1" y2="622.62" stroke="#dcdcdc" stroke-width="0.7" stroke-dasharray="1.4 1.4"/>
<line x1="390" y1="177.1" x2="390" y2="626" stroke="#dcdcdc" stroke-width="0.7" stroke-dasharray="1.4 1.4"/>
<line x1="409.5" y1="177.1" x2="409.5" y2="626" stroke="#dcdcdc" stroke-width="0.7" stroke-dasharray="1.4 1.4"/>
<line x1="428.5" y1="177.1" x2="428.5" y2="626" stroke="#dcdcdc" stroke-width="0.7" stroke-dasharray="1.4 1.4"/>
<polyline fill="none" stroke="#ff2a2a" stroke-width="0.8" stroke-linejoin="round" points="116.7,186.1 116.7,192 115.7,197.5 115.7,203.7 116.7,209.8 139.8,216 116.7,221.5 122,227.3 165.2,233 126.1,239.1 136.8,245.3 120.2,251.6 134.9,257 125.1,261.5 118.1,266.2 125.1,272.3 123,277.5 117.1,284.4 115.7,288.7 117.1,293.2 115.7,298.9 117.7,305.1 117.7,311 116.7,316.8 116.1,322.7 116.1,328.7 115.7,334.4 116.1,340.5 116.1,346.3 116.7,352.2 116.1,358 116.1,364.3 117.1,370.1 115.2,376.4 118.3,382.5 116.7,387.1 116.1,392.6 125.1,397.9 145,403.9 134.3,410.8 132.9,417.8"/>
<path fill="#ff2a2a" d="M115.6 185h2.2v2.2h-2.2zM115.6 190.9h2.2v2.2h-2.2zM114.6 196.4h2.2v2.2h-2.2zM114.6 202.6h2.2v2.2h-2.2zM115.6 208.7h2.2v2.2h-2.2zM138.7 214.9h2.2v2.2h-2.2zM115.6 220.4h2.2v2.2h-2.2zM120.9 226.2h2.2v2.2h-2.2zM164.1 231.9h2.2v2.2h-2.2zM125 238h2.2v2.2h-2.2zM135.7 244.2h2.2v2.2h-2.2zM119.1 250.5h2.2v2.2h-2.2zM133.8 255.9h2.2v2.2h-2.2zM124 260.4h2.2v2.2h-2.2zM117 265.1h2.2v2.2h-2.2zM124 271.2h2.2v2.2h-2.2zM121.9 276.4h2.2v2.2h-2.2zM116 283.3h2.2v2.2h-2.2zM114.6 287.6h2.2v2.2h-2.2zM116 292.1h2.2v2.2h-2.2zM114.6 297.8h2.2v2.2h-2.2zM116.6 304h2.2v2.2h-2.2zM116.6 309.9h2.2v2.2h-2.2zM115.6 315.7h2.2v2.2h-2.2zM115 321.6h2.2v2.2h-2.2zM115 327.6h2.2v2.2h-2.2zM114.6 333.3h2.2v2.2h-2.2zM115 339.4h2.2v2.2h-2.2zM115 345.2h2.2v2.2h-2.2zM115.6 351.1h2.2v2.2h-2.2zM115 356.9h2.2v2.2h-2.2zM115 363.2h2.2v2.2h-2.2zM116 369h2.2v2.2h-2.2zM114.1 375.3h2.2v2.2h-2.2zM117.2 381.4h2.2v2.2h-2.2zM115.6 386h2.2v2.2h-2.2zM115 391.5h2.2v2.2h-2.2zM124 396.8h2.2v2.2h-2.2zM143.9 402.8h2.2v2.2h-2.2zM133.2 409.7h2.2v2.2h-2.2zM131.8 416.7h2.2v2.2h-2.2z"/>
<polyline fill="none" stroke="#ff2a2a" stroke-width="0.8" stroke-linejoin="round" points="127.5,438.9 120.6,447.5 116.1,452.6 125.1,457.5 133.9,462.2"/>
<path fill="#ff2a2a" d="M126.4 437.8h2.2v2.2h-2.2zM119.5 446.4h2.2v2.2h-2.2zM115 451.5h2.2v2.2h-2.2zM124 456.4h2.2v2.2h-2.2zM132.8 461.1h2.2v2.2h-2.2z"/>
<polyline fill="none" stroke="#ff2a2a" stroke-width="0.8" stroke-linejoin="round" points="128.4,478.4 145,483.9 142.1,489.5 120,495.4 167.5,501.2 130,507.1 167.5,513 159.3,519.4 127.5,524.9 135.9,531 135.9,536.2 116.1,542.5 115.7,548.9 115.7,555.2 117.1,561 116.1,565.5 116.7,570.4 116.1,575.3 116.1,580.2 117.7,585.1 117.7,589.9 116.1,594.8 115.7,599.7 116.7,604.6 117.1,608.9 116.7,614.4 116.1,620.6 116.7,625.1"/>
<path fill="#ff2a2a" d="M127.3 477.3h2.2v2.2h-2.2zM143.9 482.8h2.2v2.2h-2.2zM141 488.4h2.2v2.2h-2.2zM118.9 494.3h2.2v2.2h-2.2zM166.4 500.1h2.2v2.2h-2.2zM128.9 506h2.2v2.2h-2.2zM166.4 511.9h2.2v2.2h-2.2zM158.2 518.3h2.2v2.2h-2.2zM126.4 523.8h2.2v2.2h-2.2zM134.8 529.9h2.2v2.2h-2.2zM134.8 535.1h2.2v2.2h-2.2zM115 541.4h2.2v2.2h-2.2zM114.6 547.8h2.2v2.2h-2.2zM114.6 554.1h2.2v2.2h-2.2zM116 559.9h2.2v2.2h-2.2zM115 564.4h2.2v2.2h-2.2zM115.6 569.3h2.2v2.2h-2.2zM115 574.2h2.2v2.2h-2.2zM115 579.1h2.2v2.2h-2.2zM116.6 584h2.2v2.2h-2.2zM116.6 588.8h2.2v2.2h-2.2zM115 593.7h2.2v2.2h-2.2zM114.6 598.6h2.2v2.2h-2.2zM115.6 603.5h2.2v2.2h-2.2zM116 607.8h2.2v2.2h-2.2zM115.6 613.3h2.2v2.2h-2.2zM115 619.5h2.2v2.2h-2.2zM115.6 624h2.2v2.2h-2.2z"/>
<rect x="182.9" y="182.81" width="22.69" height="5.86" fill="#9933ff" stroke="#b9b9c4" stroke-width="0.5"/>
<rect x="182.9" y="189.06" width="28.94" height="5.86" fill="#ff33cc" stroke="#b9b9c4" stroke-width="0.5"/>
<rect x="182.9" y="195.51" width="20.15" height="4.88" fill="#9933ff" stroke="#b9b9c4" stroke-width="0.5"/>
<rect x="182.9" y="201.37" width="16.44" height="4.88" fill="#9933ff" stroke="#b9b9c4" stroke-width="0.5"/>
<rect x="182.9" y="207.23" width="22.1" height="5.27" fill="#9933ff" stroke="#b9b9c4" stroke-width="0.5"/>
<rect x="182.9" y="213.09" width="8.62" height="4.88" fill="#00ccff" stroke="#b9b9c4" stroke-width="0.5"/>
<rect x="182.9" y="218.95" width="12.33" height="5.27" fill="#00ccff" stroke="#b9b9c4" stroke-width="0.5"/>
<rect x="182.9" y="224.8" width="10.38" height="5.47" fill="#00ccff" stroke="#b9b9c4" stroke-width="0.5"/>
<rect x="182.9" y="231.25" width="22.69" height="3.71" fill="#9933ff" stroke="#b9b9c4" stroke-width="0.5"/>
<rect x="182.9" y="235.94" width="10.38" height="6.05" fill="#00ccff" stroke="#b9b9c4" stroke-width="0.5"/>
<rect x="182.7" y="242.77" width="1.3" height="4.88" fill="#3a3acc"/>
<rect x="182.9" y="248.83" width="26.59" height="5.47" fill="#ff33cc" stroke="#b9b9c4" stroke-width="0.5"/>
<rect x="182.9" y="255.08" width="20.15" height="4.88" fill="#9933ff" stroke="#b9b9c4" stroke-width="0.5"/>
<rect x="182.9" y="260.55" width="11.94" height="2.73" fill="#00ccff" stroke="#b9b9c4" stroke-width="0.5"/>
<rect x="182.9" y="263.87" width="13.31" height="5.27" fill="#00ccff" stroke="#b9b9c4" stroke-width="0.5"/>
<rect x="182.9" y="269.92" width="21.12" height="4.69" fill="#9933ff" stroke="#b9b9c4" stroke-width="0.5"/>
<rect x="182.9" y="275.39" width="24.05" height="5.08" fill="#9933ff" stroke="#b9b9c4" stroke-width="0.5"/>
<rect x="182.9" y="281.05" width="23.27" height="4.88" fill="#9933ff" stroke="#b9b9c4" stroke-width="0.5"/>
<rect x="182.9" y="286.72" width="27.96" height="4.49" fill="#ff33cc" stroke="#b9b9c4" stroke-width="0.5"/>
<rect x="182.9" y="291.6" width="30.11" height="4.1" fill="#ff33cc" stroke="#b9b9c4" stroke-width="0.5"/>
<rect x="182.9" y="295.93" width="44.17" height="5.86" fill="#ff33cc" stroke="#b9b9c4" stroke-width="0.5"/>
<rect x="182.9" y="302.77" width="27.96" height="4.88" fill="#ff33cc" stroke="#b9b9c4" stroke-width="0.5"/>
<rect x="182.9" y="308.62" width="23.27" height="4.88" fill="#9933ff" stroke="#b9b9c4" stroke-width="0.5"/>
<rect x="182.9" y="314.09" width="22.49" height="5.27" fill="#9933ff" stroke="#b9b9c4" stroke-width="0.5"/>
<rect x="182.9" y="320.34" width="20.73" height="4.88" fill="#9933ff" stroke="#b9b9c4" stroke-width="0.5"/>
<rect x="182.9" y="326.2" width="16.44" height="4.88" fill="#9933ff" stroke="#b9b9c4" stroke-width="0.5"/>
<rect x="182.9" y="332.06" width="15.46" height="5.27" fill="#9933ff" stroke="#b9b9c4" stroke-width="0.5"/>
<rect x="182.9" y="338.31" width="10.97" height="5.08" fill="#00ccff" stroke="#b9b9c4" stroke-width="0.5"/>
<rect x="182.9" y="344.17" width="11.55" height="5.08" fill="#00ccff" stroke="#b9b9c4" stroke-width="0.5"/>
<rect x="182.9" y="350.23" width="23.27" height="4.88" fill="#9933ff" stroke="#b9b9c4" stroke-width="0.5"/>
<rect x="182.9" y="355.89" width="14.87" height="5.08" fill="#9933ff" stroke="#b9b9c4" stroke-width="0.5"/>
<rect x="182.9" y="361.75" width="17.8" height="5.08" fill="#9933ff" stroke="#b9b9c4" stroke-width="0.5"/>
<rect x="182.9" y="367.8" width="27.96" height="5.27" fill="#ff33cc" stroke="#b9b9c4" stroke-width="0.5"/>
<rect x="182.9" y="373.86" width="19.37" height="5.08" fill="#9933ff" stroke="#b9b9c4" stroke-width="0.5"/>
<rect x="182.9" y="379.91" width="29.52" height="5.27" fill="#ff33cc" stroke="#b9b9c4" stroke-width="0.5"/>
<rect x="182.9" y="385.97" width="19.76" height="3.12" fill="#9933ff" stroke="#b9b9c4" stroke-width="0.5"/>
<rect x="182.9" y="389.88" width="38.12" height="5.27" fill="#ff33cc" stroke="#b9b9c4" stroke-width="0.5"/>
<rect x="182.9" y="396.12" width="29.52" height="4.69" fill="#ff33cc" stroke="#b9b9c4" stroke-width="0.5"/>
<rect x="182.9" y="401.59" width="12.33" height="4.69" fill="#00ccff" stroke="#b9b9c4" stroke-width="0.5"/>
<rect x="182.9" y="407.26" width="7.65" height="7.03" fill="#0000b8" stroke="#b9b9c4" stroke-width="0.5"/>
<rect x="182.9" y="415.3" width="7.65" height="5.08" fill="#0000b8" stroke="#b9b9c4" stroke-width="0.5"/>
<rect x="182.9" y="433.07" width="8.62" height="10.55" fill="#00ccff" stroke="#b9b9c4" stroke-width="0.5"/>
<rect x="182.9" y="444.59" width="11.55" height="5.47" fill="#00ccff" stroke="#b9b9c4" stroke-width="0.5"/>
<rect x="182.9" y="450.84" width="18.78" height="4.1" fill="#9933ff" stroke="#b9b9c4" stroke-width="0.5"/>
<rect x="182.9" y="455.73" width="9.01" height="2.73" fill="#00ccff" stroke="#b9b9c4" stroke-width="0.5"/>
<rect x="182.9" y="459.44" width="10.38" height="5.47" fill="#00ccff" stroke="#b9b9c4" stroke-width="0.5"/>
<rect x="182.9" y="476.43" width="13.9" height="3.91" fill="#9933ff" stroke="#b9b9c4" stroke-width="0.5"/>
<rect x="182.7" y="480.92" width="1.3" height="22.85" fill="#3a3acc"/>
<rect x="182.9" y="504.36" width="14.87" height="5.47" fill="#9933ff" stroke="#b9b9c4" stroke-width="0.5"/>
<rect x="182.7" y="510.61" width="1.3" height="5.86" fill="#3a3acc"/>
<rect x="182.9" y="517.05" width="12.33" height="5.27" fill="#00ccff" stroke="#b9b9c4" stroke-width="0.5"/>
<rect x="182.7" y="522.91" width="1.3" height="4.88" fill="#3a3acc"/>
<rect x="182.9" y="528.41" width="9.01" height="4.88" fill="#00ccff" stroke="#b9b9c4" stroke-width="0.5"/>
<rect x="182.9" y="533.69" width="9.01" height="4.49" fill="#00ccff" stroke="#b9b9c4" stroke-width="0.5"/>
<rect x="182.9" y="539.16" width="27.96" height="5.86" fill="#ff33cc" stroke="#b9b9c4" stroke-width="0.5"/>
<rect x="182.9" y="545.99" width="23.27" height="5.47" fill="#9933ff" stroke="#b9b9c4" stroke-width="0.5"/>
<rect x="182.9" y="552.44" width="20.15" height="5.27" fill="#9933ff" stroke="#b9b9c4" stroke-width="0.5"/>
<rect x="182.9" y="558.69" width="31.47" height="4.49" fill="#ff33cc" stroke="#b9b9c4" stroke-width="0.5"/>
<rect x="182.9" y="563.96" width="22.49" height="3.91" fill="#9933ff" stroke="#b9b9c4" stroke-width="0.5"/>
<rect x="182.9" y="568.65" width="19.17" height="3.52" fill="#9933ff" stroke="#b9b9c4" stroke-width="0.5"/>
<rect x="182.9" y="572.95" width="30.11" height="3.71" fill="#ff33cc" stroke="#b9b9c4" stroke-width="0.5"/>
<rect x="182.9" y="577.63" width="18.58" height="5.27" fill="#9933ff" stroke="#b9b9c4" stroke-width="0.5"/>
<rect x="182.9" y="583.88" width="46.71" height="3.52" fill="#ff6a00" stroke="#b9b9c4" stroke-width="0.5"/>
<rect x="182.9" y="588.38" width="24.64" height="5.08" fill="#9933ff" stroke="#b9b9c4" stroke-width="0.5"/>
<rect x="182.9" y="594.23" width="26.2" height="4.49" fill="#ff33cc" stroke="#b9b9c4" stroke-width="0.5"/>
<rect x="182.9" y="599.7" width="42.61" height="5.47" fill="#ff33cc" stroke="#b9b9c4" stroke-width="0.5"/>
<rect x="182.9" y="605.95" width="19.76" height="5.08" fill="#9933ff" stroke="#b9b9c4" stroke-width="0.5"/>
<rect x="182.9" y="611.81" width="24.64" height="5.08" fill="#9933ff" stroke="#b9b9c4" stroke-width="0.5"/>
<rect x="182.9" y="617.87" width="31.47" height="4.88" fill="#ff33cc" stroke="#b9b9c4" stroke-width="0.5"/>
<rect x="182.9" y="623.73" width="23.27" height="5.27" fill="#9933ff" stroke="#b9b9c4" stroke-width="0.5"/>
<path fill="#00cc00" d="M252 185.7 L286.1 185.7 L278.3 192 L268.05 195 Q252 198.07 259.25 200.85 L260.7 203.7 L269.5 209.8 L284.1 216 L274.35 218.75 Q252 221.43 280.7 224.4 L296.8 227.3 L299.8 233 L282.2 239.1 L280.25 242.2 Q275.62 245.28 281.7 248.45 L285.1 251.6 L303.7 257 L296.8 261.5 L289 263.85 Q275.35 265.85 285.1 269.25 L289 272.3 L287.55 274.9 Q284.15 277.33 288.55 280.45 L291 283.4 L279.2 288.7 L269.5 293.2 L267.35 295.05 Q262.07 295.77 269.3 301 L273.4 305.1 L274.5 311 L271 316.8 L264.15 319.75 Q253.38 322.67 258.3 325.7 L259.3 328.7 L262.2 334.4 L261.2 340.5 L260.3 346.3 L270 352.2 L263.2 358 L262.2 364.3 L269.1 370.1 L264.7 373.25 Q253.57 376.45 269.35 379.45 L278.4 382.5 L265.2 387.1 L265.2 392.6 L262.25 395.25 Q253.43 397.72 268.1 400.9 L276.9 403.9 L272 407.35 Q260.88 410.77 274.65 414.3 L282.2 417.8 L252 417.8 z"/>
<path fill="#00cc00" d="M252 438.3 L275.3 438.3 L288 447.5 L278.3 452.6 L278.3 457.5 L278.3 462.2 L252 462.2 z"/>
<path fill="#00cc00" d="M252 478.4 L288 478.4 L290 483.9 L292.5 489.5 L291.4 495.4 L288.25 498.3 Q282.2 501.18 287.75 504.15 L290.4 507.1 L288.25 510.05 Q280.3 512.88 295.55 516.2 L305 519.4 L277.3 524.9 L276.1 527.95 Q272.1 531.22 279.3 533.6 L283.7 536.2 L272.95 539.35 Q256.32 542.47 263.2 545.7 L264.2 548.9 L266.1 555.2 L264.85 558.1 Q262.58 561.33 264.4 563.25 L265.2 565.5 L263.2 570.4 L264.2 575.3 L267.1 580.2 L274.5 585.1 L267.1 589.9 L265.5 594.8 L264.55 597.25 Q262.73 599.7 264.4 602.15 L265.2 604.6 L268.1 608.9 L273 614.4 L275.9 620.6 L267.1 625.1 L267.1 630 L252 630 z"/>
<g fill="#ff7a0a"><circle cx="321.8" cy="185.7" r="1.45"/><circle cx="321.8" cy="192" r="1.45"/><circle cx="321.8" cy="197.5" r="1.45"/><circle cx="321.8" cy="203.7" r="1.45"/><circle cx="321.8" cy="209.8" r="1.45"/><circle cx="321.8" cy="216" r="1.45"/><circle cx="321.8" cy="221.5" r="1.45"/><circle cx="321.8" cy="227.7" r="1.45"/><circle cx="338.2" cy="233" r="1.45"/><circle cx="339.8" cy="239.1" r="1.45"/><circle cx="336.5" cy="245.3" r="1.45"/><circle cx="330.4" cy="251.6" r="1.45"/><circle cx="336.5" cy="257" r="1.45"/><circle cx="355.2" cy="261.5" r="1.45"/><circle cx="332" cy="266.2" r="1.45"/><circle cx="346.6" cy="272.5" r="1.45"/><circle cx="327.3" cy="277.9" r="1.45"/><circle cx="325.1" cy="284.2" r="1.45"/><circle cx="321.8" cy="288.7" r="1.45"/><circle cx="323.4" cy="293.4" r="1.45"/><circle cx="321.8" cy="298.9" r="1.45"/><circle cx="321.8" cy="305.1" r="1.45"/><circle cx="321.8" cy="311" r="1.45"/><circle cx="321.8" cy="316.8" r="1.45"/><circle cx="321.8" cy="322.7" r="1.45"/><circle cx="321.8" cy="328.7" r="1.45"/><circle cx="321.8" cy="334.4" r="1.45"/><circle cx="321.8" cy="340.5" r="1.45"/><circle cx="321.8" cy="346.3" r="1.45"/><circle cx="321.8" cy="352.2" r="1.45"/><circle cx="321.8" cy="358" r="1.45"/><circle cx="321.8" cy="364.3" r="1.45"/><circle cx="323.4" cy="370.1" r="1.45"/><circle cx="321.8" cy="376.4" r="1.45"/><circle cx="323.4" cy="382.5" r="1.45"/><circle cx="321.8" cy="387.1" r="1.45"/><circle cx="321.8" cy="392.6" r="1.45"/><circle cx="321.8" cy="397.9" r="1.45"/><circle cx="332" cy="403.9" r="1.45"/><circle cx="374.6" cy="410.8" r="1.45"/><circle cx="332.8" cy="418.2" r="1.45"/><circle cx="341.4" cy="438.9" r="1.45"/><circle cx="332" cy="447.5" r="1.45"/><circle cx="324.2" cy="452.6" r="1.45"/><circle cx="329.6" cy="457.5" r="1.45"/><circle cx="326.5" cy="462.2" r="1.45"/><circle cx="321.8" cy="478.4" r="1.45"/><circle cx="336.5" cy="483.9" r="1.45"/><circle cx="332.8" cy="489.5" r="1.45"/><circle cx="330.4" cy="495.4" r="1.45"/><circle cx="340.6" cy="501.2" r="1.45"/><circle cx="329.6" cy="507.1" r="1.45"/><circle cx="325.1" cy="513" r="1.45"/><circle cx="347.6" cy="519.4" r="1.45"/><circle cx="346" cy="524.9" r="1.45"/><circle cx="364.6" cy="531" r="1.45"/><circle cx="339.8" cy="536.2" r="1.45"/><circle cx="321.8" cy="542.5" r="1.45"/><circle cx="321.8" cy="548.9" r="1.45"/><circle cx="321.8" cy="555.2" r="1.45"/><circle cx="321.8" cy="561" r="1.45"/><circle cx="323.4" cy="565.5" r="1.45"/><circle cx="321.8" cy="570.4" r="1.45"/><circle cx="321.8" cy="575.3" r="1.45"/><circle cx="321.8" cy="580.2" r="1.45"/><circle cx="321.8" cy="585.1" r="1.45"/><circle cx="321.8" cy="589.9" r="1.45"/><circle cx="321.8" cy="596.8" r="1.45"/><circle cx="321.8" cy="602.2" r="1.45"/><circle cx="321.8" cy="608.5" r="1.45"/><circle cx="321.8" cy="614.4" r="1.45"/><circle cx="321.8" cy="620.2" r="1.45"/><circle cx="321.8" cy="625.5" r="1.45"/></g>
<path fill="url(#co1)" d="M390 184.8 L391.6 184.8 L391.9 192 L392.5 198 L391.9 203.7 L391.9 209.8 L411.7 216 L403.1 218.75 Q390 221.43 403.75 224.4 L413 227.3 L420.9 233 L424.8 239.1 L428.1 245.3 L416.85 248.65 Q396.9 252.43 411.75 254.5 L417.9 257 L424.8 261.5 L419.9 266.2 L414 272.3 L409.1 274.9 Q401.15 277.33 405.4 280.45 L406.6 283.4 L400.05 286.05 Q390 288.9 394.5 290.95 L395.5 293.2 L391.9 298.9 L392.5 305.1 L395.5 311 L394.9 316.8 L392.5 322.7 L392.5 328.7 L392.5 334.4 L391.9 340.5 L392.5 346.3 L394.9 352.2 L392.5 358 L392.5 364.3 L394.5 370.1 L393.5 373.25 Q391.4 376.45 393.7 379.45 L394.9 382.5 L393.5 387.1 L392.5 392.6 L394.9 397.9 L419.9 403.9 L439 410.8 L417.5 417.8 L390 417.8 z"/>
<path fill="url(#co1)" d="M390 438.9 L443.3 438.9 L417.9 447.5 L412.05 450.05 Q400.1 452.65 412.55 455.05 L418.9 457.5 L422.2 462.2 L390 462.2 z"/>
<path fill="url(#co1)" d="M390 478.4 L410.1 478.4 L426.7 483.9 L432 489.5 L427.7 495.4 L423.8 501.2 L419.4 504.15 Q409.73 507.1 421.15 510.05 L427.3 513 L426.3 516.2 Q423.23 519.62 428.45 522.15 L431.6 524.9 L440.4 531 L423.8 536.2 L391.6 542.5 L392.5 548.9 L393.5 555.2 L392.5 561 L395.5 565.5 L393.5 570.4 L392.5 575.3 L391.9 580.2 L392.5 585.1 L394.1 589.9 L392.9 594.8 L392.5 599.7 L392.5 604.6 L394.5 608.9 L393.5 614.4 L392.5 620.6 L391.9 625.1 L391.9 630 L390 630 z"/>
<line x1="42.2" y1="176.6" x2="42.2" y2="626" stroke="#c2c2c2" stroke-width="0.9"/>
<line x1="100.4" y1="176.6" x2="100.4" y2="626" stroke="#c2c2c2" stroke-width="0.9"/>
<line x1="41.9" y1="176.6" x2="100.7" y2="176.6" stroke="#8c8c8c" stroke-width="1"/>
<rect x="41.9" y="182.55" width="58.8" height="29.73" fill="#f26830"/>
<line x1="42.6" y1="182.55" x2="100" y2="182.55" stroke="#3d1709" stroke-width="0.5" opacity="0.8"/>
<line x1="42.6" y1="212.28" x2="100" y2="212.28" stroke="#3d1709" stroke-width="0.5" opacity="0.8"/>
<text x="61" y="200.01" font-size="7.2" fill="#3d1709" textLength="20.6" lengthAdjust="spacing" font-weight="bold">GRAN</text>
<rect x="41.9" y="212.28" width="58.8" height="74.04" fill="#5cb85c"/>
<line x1="42.6" y1="212.28" x2="100" y2="212.28" stroke="#0e2e10" stroke-width="0.5" opacity="0.8"/>
<line x1="42.6" y1="286.32" x2="100" y2="286.32" stroke="#0e2e10" stroke-width="0.5" opacity="0.8"/>
<text x="63.58" y="251.9" font-size="7.2" fill="#0e2e10" textLength="15.45" lengthAdjust="spacing" font-weight="bold">SHL</text>
<rect x="41.9" y="286.32" width="58.8" height="115.07" fill="#f26830"/>
<line x1="42.6" y1="286.32" x2="100" y2="286.32" stroke="#3d1709" stroke-width="0.5" opacity="0.8"/>
<line x1="42.6" y1="401.4" x2="100" y2="401.4" stroke="#3d1709" stroke-width="0.5" opacity="0.8"/>
<text x="61" y="346.46" font-size="7.2" fill="#3d1709" textLength="20.6" lengthAdjust="spacing" font-weight="bold">GRAN</text>
<rect x="41.9" y="401.4" width="58.8" height="19.63" fill="#f9a820"/>
<line x1="42.6" y1="401.4" x2="100" y2="401.4" stroke="#3d2905" stroke-width="0.5" opacity="0.8"/>
<line x1="42.6" y1="421.02" x2="100" y2="421.02" stroke="#3d2905" stroke-width="0.5" opacity="0.8"/>
<text x="58.43" y="413.81" font-size="7.2" fill="#3d2905" textLength="25.75" lengthAdjust="spacing" font-weight="bold">MAFIC</text>
<rect x="41.9" y="432.92" width="58.8" height="32.11" fill="#f9a820"/>
<line x1="42.6" y1="432.92" x2="100" y2="432.92" stroke="#3d2905" stroke-width="0.5" opacity="0.8"/>
<line x1="42.6" y1="465.03" x2="100" y2="465.03" stroke="#3d2905" stroke-width="0.5" opacity="0.8"/>
<text x="58.43" y="451.57" font-size="7.2" fill="#3d2905" textLength="25.75" lengthAdjust="spacing" font-weight="bold">MAFIC</text>
<rect x="41.9" y="476.33" width="58.8" height="63.04" fill="#f9a820"/>
<line x1="42.6" y1="476.33" x2="100" y2="476.33" stroke="#3d2905" stroke-width="0.5" opacity="0.8"/>
<line x1="42.6" y1="539.37" x2="100" y2="539.37" stroke="#3d2905" stroke-width="0.5" opacity="0.8"/>
<text x="58.43" y="510.45" font-size="7.2" fill="#3d2905" textLength="25.75" lengthAdjust="spacing" font-weight="bold">MAFIC</text>
<rect x="41.9" y="539.37" width="58.8" height="112.99" fill="#f26830"/>
<line x1="42.6" y1="539.37" x2="100" y2="539.37" stroke="#3d1709" stroke-width="0.5" opacity="0.8"/>
<line x1="113.5" y1="176.6" x2="113.5" y2="626" stroke="#c2c2c2" stroke-width="0.9"/>
<line x1="169.6" y1="176.6" x2="169.6" y2="626" stroke="#c2c2c2" stroke-width="0.9"/>
<line x1="113.2" y1="176.6" x2="169.9" y2="176.6" stroke="#8c8c8c" stroke-width="1"/>
<line x1="115.2" y1="174.6" x2="115.2" y2="176.6" stroke="#8c8c8c" stroke-width="0.8"/>
<text x="113.15" y="171.3" font-size="7.5" fill="#1a1a1a">0</text>
<line x1="135.7" y1="174.6" x2="135.7" y2="176.6" stroke="#8c8c8c" stroke-width="0.8"/>
<text x="129.2" y="171.3" font-size="7.5" fill="#1a1a1a" textLength="13.2" lengthAdjust="spacing">100</text>
<line x1="157" y1="174.6" x2="157" y2="176.6" stroke="#8c8c8c" stroke-width="0.8"/>
<text x="150.5" y="171.3" font-size="7.5" fill="#1a1a1a" textLength="13.2" lengthAdjust="spacing">200</text>
<line x1="182.5" y1="176.6" x2="182.5" y2="626" stroke="#c2c2c2" stroke-width="0.9"/>
<line x1="239.1" y1="176.6" x2="239.1" y2="626" stroke="#c2c2c2" stroke-width="0.9"/>
<line x1="182.2" y1="176.6" x2="239.4" y2="176.6" stroke="#8c8c8c" stroke-width="1"/>
<line x1="198.6" y1="174.6" x2="198.6" y2="176.6" stroke="#8c8c8c" stroke-width="0.8"/>
<text x="194.3" y="171.3" font-size="7.5" fill="#1a1a1a" textLength="8.8" lengthAdjust="spacing">25</text>
<line x1="219.5" y1="174.6" x2="219.5" y2="176.6" stroke="#8c8c8c" stroke-width="0.8"/>
<text x="215.2" y="171.3" font-size="7.5" fill="#1a1a1a" textLength="8.8" lengthAdjust="spacing">50</text>
<line x1="251.7" y1="176.6" x2="251.7" y2="626" stroke="#c2c2c2" stroke-width="0.9"/>
<line x1="307.8" y1="176.6" x2="307.8" y2="626" stroke="#c2c2c2" stroke-width="0.9"/>
<line x1="251.4" y1="176.6" x2="308.1" y2="176.6" stroke="#8c8c8c" stroke-width="1"/>
<line x1="277.3" y1="174.6" x2="277.3" y2="176.6" stroke="#8c8c8c" stroke-width="0.8"/>
<text x="270.8" y="171.3" font-size="7.5" fill="#1a1a1a" textLength="13.2" lengthAdjust="spacing">100</text>
<line x1="305" y1="174.6" x2="305" y2="176.6" stroke="#8c8c8c" stroke-width="0.8"/>
<text x="298.5" y="171.3" font-size="7.5" fill="#1a1a1a" textLength="13.2" lengthAdjust="spacing">200</text>
<line x1="320.4" y1="176.6" x2="320.4" y2="626" stroke="#c2c2c2" stroke-width="0.9"/>
<line x1="376.6" y1="176.6" x2="376.6" y2="626" stroke="#c2c2c2" stroke-width="0.9"/>
<line x1="320.1" y1="176.6" x2="376.9" y2="176.6" stroke="#8c8c8c" stroke-width="1"/>
<line x1="320.8" y1="174.6" x2="320.8" y2="176.6" stroke="#8c8c8c" stroke-width="0.8"/>
<text x="318.75" y="171.3" font-size="7.5" fill="#1a1a1a">0</text>
<line x1="366.6" y1="174.6" x2="366.6" y2="176.6" stroke="#8c8c8c" stroke-width="0.8"/>
<text x="360.1" y="171.3" font-size="7.5" fill="#1a1a1a" textLength="13.2" lengthAdjust="spacing">250</text>
<line x1="389.6" y1="176.6" x2="389.6" y2="626" stroke="#c2c2c2" stroke-width="0.9"/>
<line x1="445.6" y1="176.6" x2="445.6" y2="626" stroke="#c2c2c2" stroke-width="0.9"/>
<line x1="389.3" y1="176.6" x2="445.9" y2="176.6" stroke="#8c8c8c" stroke-width="1"/>
<line x1="390" y1="174.6" x2="390" y2="176.6" stroke="#8c8c8c" stroke-width="0.8"/>
<text x="387.95" y="171.3" font-size="7.5" fill="#1a1a1a">0</text>
<line x1="409.5" y1="174.6" x2="409.5" y2="176.6" stroke="#8c8c8c" stroke-width="0.8"/>
<text x="405.2" y="171.3" font-size="7.5" fill="#1a1a1a" textLength="8.8" lengthAdjust="spacing">25</text>
<line x1="428.5" y1="174.6" x2="428.5" y2="176.6" stroke="#8c8c8c" stroke-width="0.8"/>
<text x="424.2" y="171.3" font-size="7.5" fill="#1a1a1a" textLength="8.8" lengthAdjust="spacing">50</text>
<line x1="39.5" y1="176.6" x2="42" y2="176.6" stroke="#777" stroke-width="0.9"/>
<text x="32.3" y="179.8" font-size="7.5" fill="#1a1a1a">0</text>
<line x1="39.5" y1="191.47" x2="42" y2="191.47" stroke="#777" stroke-width="0.9"/>
<text x="25.4" y="194.67" font-size="7.5" fill="#1a1a1a" textLength="11.2" lengthAdjust="spacing">2.5</text>
<line x1="39.5" y1="206.33" x2="42" y2="206.33" stroke="#777" stroke-width="0.9"/>
<text x="32.3" y="209.53" font-size="7.5" fill="#1a1a1a">5</text>
<line x1="39.5" y1="221.2" x2="42" y2="221.2" stroke="#777" stroke-width="0.9"/>
<text x="25.4" y="224.4" font-size="7.5" fill="#1a1a1a" textLength="11.2" lengthAdjust="spacing">7.5</text>
<line x1="39.5" y1="236.07" x2="42" y2="236.07" stroke="#777" stroke-width="0.9"/>
<text x="27.7" y="239.27" font-size="7.5" fill="#1a1a1a" textLength="8.9" lengthAdjust="spacing">10</text>
<line x1="39.5" y1="250.94" x2="42" y2="250.94" stroke="#777" stroke-width="0.9"/>
<text x="20.9" y="254.14" font-size="7.5" fill="#1a1a1a" textLength="15.7" lengthAdjust="spacing">12.5</text>
<line x1="39.5" y1="265.81" x2="42" y2="265.81" stroke="#777" stroke-width="0.9"/>
<text x="27.7" y="269" font-size="7.5" fill="#1a1a1a" textLength="8.9" lengthAdjust="spacing">15</text>
<line x1="39.5" y1="280.67" x2="42" y2="280.67" stroke="#777" stroke-width="0.9"/>
<text x="20.9" y="283.87" font-size="7.5" fill="#1a1a1a" textLength="15.7" lengthAdjust="spacing">17.5</text>
<line x1="39.5" y1="295.54" x2="42" y2="295.54" stroke="#777" stroke-width="0.9"/>
<text x="27.7" y="298.74" font-size="7.5" fill="#1a1a1a" textLength="8.9" lengthAdjust="spacing">20</text>
<line x1="39.5" y1="310.41" x2="42" y2="310.41" stroke="#777" stroke-width="0.9"/>
<text x="20.9" y="313.61" font-size="7.5" fill="#1a1a1a" textLength="15.7" lengthAdjust="spacing">22.5</text>
<line x1="39.5" y1="325.27" x2="42" y2="325.27" stroke="#777" stroke-width="0.9"/>
<text x="27.7" y="328.47" font-size="7.5" fill="#1a1a1a" textLength="8.9" lengthAdjust="spacing">25</text>
<line x1="39.5" y1="340.14" x2="42" y2="340.14" stroke="#777" stroke-width="0.9"/>
<text x="20.9" y="343.34" font-size="7.5" fill="#1a1a1a" textLength="15.7" lengthAdjust="spacing">27.5</text>
<line x1="39.5" y1="355.01" x2="42" y2="355.01" stroke="#777" stroke-width="0.9"/>
<text x="27.7" y="358.21" font-size="7.5" fill="#1a1a1a" textLength="8.9" lengthAdjust="spacing">30</text>
<line x1="39.5" y1="369.88" x2="42" y2="369.88" stroke="#777" stroke-width="0.9"/>
<text x="20.9" y="373.08" font-size="7.5" fill="#1a1a1a" textLength="15.7" lengthAdjust="spacing">32.5</text>
<line x1="39.5" y1="384.75" x2="42" y2="384.75" stroke="#777" stroke-width="0.9"/>
<text x="27.7" y="387.94" font-size="7.5" fill="#1a1a1a" textLength="8.9" lengthAdjust="spacing">35</text>
<line x1="39.5" y1="399.61" x2="42" y2="399.61" stroke="#777" stroke-width="0.9"/>
<text x="20.9" y="402.81" font-size="7.5" fill="#1a1a1a" textLength="15.7" lengthAdjust="spacing">37.5</text>
<line x1="39.5" y1="414.48" x2="42" y2="414.48" stroke="#777" stroke-width="0.9"/>
<text x="27.7" y="417.68" font-size="7.5" fill="#1a1a1a" textLength="8.9" lengthAdjust="spacing">40</text>
<line x1="39.5" y1="429.35" x2="42" y2="429.35" stroke="#777" stroke-width="0.9"/>
<text x="20.9" y="432.55" font-size="7.5" fill="#1a1a1a" textLength="15.7" lengthAdjust="spacing">42.5</text>
<line x1="39.5" y1="444.22" x2="42" y2="444.22" stroke="#777" stroke-width="0.9"/>
<text x="27.7" y="447.42" font-size="7.5" fill="#1a1a1a" textLength="8.9" lengthAdjust="spacing">45</text>
<line x1="39.5" y1="459.08" x2="42" y2="459.08" stroke="#777" stroke-width="0.9"/>
<text x="20.9" y="462.28" font-size="7.5" fill="#1a1a1a" textLength="15.7" lengthAdjust="spacing">47.5</text>
<line x1="39.5" y1="473.95" x2="42" y2="473.95" stroke="#777" stroke-width="0.9"/>
<text x="27.7" y="477.15" font-size="7.5" fill="#1a1a1a" textLength="8.9" lengthAdjust="spacing">50</text>
<line x1="39.5" y1="488.82" x2="42" y2="488.82" stroke="#777" stroke-width="0.9"/>
<text x="20.9" y="492.02" font-size="7.5" fill="#1a1a1a" textLength="15.7" lengthAdjust="spacing">52.5</text>
<line x1="39.5" y1="503.68" x2="42" y2="503.68" stroke="#777" stroke-width="0.9"/>
<text x="27.7" y="506.88" font-size="7.5" fill="#1a1a1a" textLength="8.9" lengthAdjust="spacing">55</text>
<line x1="39.5" y1="518.55" x2="42" y2="518.55" stroke="#777" stroke-width="0.9"/>
<text x="20.9" y="521.75" font-size="7.5" fill="#1a1a1a" textLength="15.7" lengthAdjust="spacing">57.5</text>
<line x1="39.5" y1="533.42" x2="42" y2="533.42" stroke="#777" stroke-width="0.9"/>
<text x="27.7" y="536.62" font-size="7.5" fill="#1a1a1a" textLength="8.9" lengthAdjust="spacing">60</text>
<line x1="39.5" y1="548.29" x2="42" y2="548.29" stroke="#777" stroke-width="0.9"/>
<text x="20.9" y="551.49" font-size="7.5" fill="#1a1a1a" textLength="15.7" lengthAdjust="spacing">62.5</text>
<line x1="39.5" y1="563.15" x2="42" y2="563.15" stroke="#777" stroke-width="0.9"/>
<text x="27.7" y="566.36" font-size="7.5" fill="#1a1a1a" textLength="8.9" lengthAdjust="spacing">65</text>
<line x1="39.5" y1="578.02" x2="42" y2="578.02" stroke="#777" stroke-width="0.9"/>
<text x="20.9" y="581.22" font-size="7.5" fill="#1a1a1a" textLength="15.7" lengthAdjust="spacing">67.5</text>
<line x1="39.5" y1="592.89" x2="42" y2="592.89" stroke="#777" stroke-width="0.9"/>
<text x="27.7" y="596.09" font-size="7.5" fill="#1a1a1a" textLength="8.9" lengthAdjust="spacing">70</text>
<line x1="39.5" y1="607.76" x2="42" y2="607.76" stroke="#777" stroke-width="0.9"/>
<text x="20.9" y="610.96" font-size="7.5" fill="#1a1a1a" textLength="15.7" lengthAdjust="spacing">72.5</text>
<line x1="39.5" y1="622.62" x2="42" y2="622.62" stroke="#777" stroke-width="0.9"/>
<text x="27.7" y="625.83" font-size="7.5" fill="#1a1a1a" textLength="8.9" lengthAdjust="spacing">75</text>
<text x="58.5" y="159.4" font-size="9.4" fill="#222" textLength="25.6" lengthAdjust="spacing">GEOL</text>
<text x="123.5" y="159.4" font-size="9.4" fill="#222" textLength="36.6" lengthAdjust="spacing">Cu_ppm</text>
<text x="192.7" y="159.4" font-size="9.4" fill="#222" textLength="36.2" lengthAdjust="spacing">Pb_ppm</text>
<text x="261.7" y="159.4" font-size="9.4" fill="#222" textLength="35.8" lengthAdjust="spacing">Zn_ppm</text>
<text x="331.6" y="159.4" font-size="9.4" fill="#222" textLength="34" lengthAdjust="spacing">Ni_ppm</text>
<text x="399.5" y="159.4" font-size="9.4" fill="#222" textLength="36.6" lengthAdjust="spacing">Co_ppm</text>
<text x="0" y="0" font-size="8.7" fill="#333" textLength="65" lengthAdjust="spacing" transform="translate(10.2 543) rotate(-90)">XYZ1034 Depth</text>
<text x="661.8" y="139.3" font-size="13" fill="#111" textLength="56.6" lengthAdjust="spacing" font-weight="bold">XYZ1035</text>
<line x1="579.1" y1="191.47" x2="634.1" y2="191.47" stroke="#dcdcdc" stroke-width="0.7" stroke-dasharray="1.4 1.4"/>
<line x1="579.1" y1="206.33" x2="634.1" y2="206.33" stroke="#dcdcdc" stroke-width="0.7" stroke-dasharray="1.4 1.4"/>
<line x1="579.1" y1="221.2" x2="634.1" y2="221.2" stroke="#dcdcdc" stroke-width="0.7" stroke-dasharray="1.4 1.4"/>
<line x1="579.1" y1="236.07" x2="634.1" y2="236.07" stroke="#dcdcdc" stroke-width="0.7" stroke-dasharray="1.4 1.4"/>
<line x1="579.1" y1="250.94" x2="634.1" y2="250.94" stroke="#dcdcdc" stroke-width="0.7" stroke-dasharray="1.4 1.4"/>
<line x1="579.1" y1="265.81" x2="634.1" y2="265.81" stroke="#dcdcdc" stroke-width="0.7" stroke-dasharray="1.4 1.4"/>
<line x1="579.1" y1="280.67" x2="634.1" y2="280.67" stroke="#dcdcdc" stroke-width="0.7" stroke-dasharray="1.4 1.4"/>
<line x1="579.1" y1="295.54" x2="634.1" y2="295.54" stroke="#dcdcdc" stroke-width="0.7" stroke-dasharray="1.4 1.4"/>
<line x1="579.1" y1="310.41" x2="634.1" y2="310.41" stroke="#dcdcdc" stroke-width="0.7" stroke-dasharray="1.4 1.4"/>
<line x1="579.1" y1="325.27" x2="634.1" y2="325.27" stroke="#dcdcdc" stroke-width="0.7" stroke-dasharray="1.4 1.4"/>
<line x1="579.1" y1="340.14" x2="634.1" y2="340.14" stroke="#dcdcdc" stroke-width="0.7" stroke-dasharray="1.4 1.4"/>
<line x1="579.1" y1="355.01" x2="634.1" y2="355.01" stroke="#dcdcdc" stroke-width="0.7" stroke-dasharray="1.4 1.4"/>
<line x1="579.1" y1="369.88" x2="634.1" y2="369.88" stroke="#dcdcdc" stroke-width="0.7" stroke-dasharray="1.4 1.4"/>
<line x1="579.1" y1="384.75" x2="634.1" y2="384.75" stroke="#dcdcdc" stroke-width="0.7" stroke-dasharray="1.4 1.4"/>
<line x1="579.1" y1="399.61" x2="634.1" y2="399.61" stroke="#dcdcdc" stroke-width="0.7" stroke-dasharray="1.4 1.4"/>
<line x1="579.1" y1="414.48" x2="634.1" y2="414.48" stroke="#dcdcdc" stroke-width="0.7" stroke-dasharray="1.4 1.4"/>
<line x1="579.1" y1="429.35" x2="634.1" y2="429.35" stroke="#dcdcdc" stroke-width="0.7" stroke-dasharray="1.4 1.4"/>
<line x1="579.1" y1="444.22" x2="634.1" y2="444.22" stroke="#dcdcdc" stroke-width="0.7" stroke-dasharray="1.4 1.4"/>
<line x1="579.1" y1="459.08" x2="634.1" y2="459.08" stroke="#dcdcdc" stroke-width="0.7" stroke-dasharray="1.4 1.4"/>
<line x1="579.1" y1="473.95" x2="634.1" y2="473.95" stroke="#dcdcdc" stroke-width="0.7" stroke-dasharray="1.4 1.4"/>
<line x1="579.1" y1="488.82" x2="634.1" y2="488.82" stroke="#dcdcdc" stroke-width="0.7" stroke-dasharray="1.4 1.4"/>
<line x1="579.1" y1="503.68" x2="634.1" y2="503.68" stroke="#dcdcdc" stroke-width="0.7" stroke-dasharray="1.4 1.4"/>
<line x1="579.1" y1="518.55" x2="634.1" y2="518.55" stroke="#dcdcdc" stroke-width="0.7" stroke-dasharray="1.4 1.4"/>
<line x1="579.1" y1="533.42" x2="634.1" y2="533.42" stroke="#dcdcdc" stroke-width="0.7" stroke-dasharray="1.4 1.4"/>
<line x1="579.1" y1="548.29" x2="634.1" y2="548.29" stroke="#dcdcdc" stroke-width="0.7" stroke-dasharray="1.4 1.4"/>
<line x1="579.1" y1="563.15" x2="634.1" y2="563.15" stroke="#dcdcdc" stroke-width="0.7" stroke-dasharray="1.4 1.4"/>
<line x1="579.1" y1="578.02" x2="634.1" y2="578.02" stroke="#dcdcdc" stroke-width="0.7" stroke-dasharray="1.4 1.4"/>
<line x1="579.1" y1="592.89" x2="634.1" y2="592.89" stroke="#dcdcdc" stroke-width="0.7" stroke-dasharray="1.4 1.4"/>
<line x1="579.1" y1="607.76" x2="634.1" y2="607.76" stroke="#dcdcdc" stroke-width="0.7" stroke-dasharray="1.4 1.4"/>
<line x1="579.1" y1="622.62" x2="634.1" y2="622.62" stroke="#dcdcdc" stroke-width="0.7" stroke-dasharray="1.4 1.4"/>
<line x1="580.2" y1="177.1" x2="580.2" y2="626" stroke="#dcdcdc" stroke-width="0.7" stroke-dasharray="1.4 1.4"/>
<line x1="601.3" y1="177.1" x2="601.3" y2="626" stroke="#dcdcdc" stroke-width="0.7" stroke-dasharray="1.4 1.4"/>
<line x1="622.2" y1="177.1" x2="622.2" y2="626" stroke="#dcdcdc" stroke-width="0.7" stroke-dasharray="1.4 1.4"/>
<line x1="648" y1="191.47" x2="703.3" y2="191.47" stroke="#dcdcdc" stroke-width="0.7" stroke-dasharray="1.4 1.4"/>
<line x1="648" y1="206.33" x2="703.3" y2="206.33" stroke="#dcdcdc" stroke-width="0.7" stroke-dasharray="1.4 1.4"/>
<line x1="648" y1="221.2" x2="703.3" y2="221.2" stroke="#dcdcdc" stroke-width="0.7" stroke-dasharray="1.4 1.4"/>
<line x1="648" y1="236.07" x2="703.3" y2="236.07" stroke="#dcdcdc" stroke-width="0.7" stroke-dasharray="1.4 1.4"/>
<line x1="648" y1="250.94" x2="703.3" y2="250.94" stroke="#dcdcdc" stroke-width="0.7" stroke-dasharray="1.4 1.4"/>
<line x1="648" y1="265.81" x2="703.3" y2="265.81" stroke="#dcdcdc" stroke-width="0.7" stroke-dasharray="1.4 1.4"/>
<line x1="648" y1="280.67" x2="703.3" y2="280.67" stroke="#dcdcdc" stroke-width="0.7" stroke-dasharray="1.4 1.4"/>
<line x1="648" y1="295.54" x2="703.3" y2="295.54" stroke="#dcdcdc" stroke-width="0.7" stroke-dasharray="1.4 1.4"/>
<line x1="648" y1="310.41" x2="703.3" y2="310.41" stroke="#dcdcdc" stroke-width="0.7" stroke-dasharray="1.4 1.4"/>
<line x1="648" y1="325.27" x2="703.3" y2="325.27" stroke="#dcdcdc" stroke-width="0.7" stroke-dasharray="1.4 1.4"/>
<line x1="648" y1="340.14" x2="703.3" y2="340.14" stroke="#dcdcdc" stroke-width="0.7" stroke-dasharray="1.4 1.4"/>
<line x1="648" y1="355.01" x2="703.3" y2="355.01" stroke="#dcdcdc" stroke-width="0.7" stroke-dasharray="1.4 1.4"/>
<line x1="648" y1="369.88" x2="703.3" y2="369.88" stroke="#dcdcdc" stroke-width="0.7" stroke-dasharray="1.4 1.4"/>
<line x1="648" y1="384.75" x2="703.3" y2="384.75" stroke="#dcdcdc" stroke-width="0.7" stroke-dasharray="1.4 1.4"/>
<line x1="648" y1="399.61" x2="703.3" y2="399.61" stroke="#dcdcdc" stroke-width="0.7" stroke-dasharray="1.4 1.4"/>
<line x1="648" y1="414.48" x2="703.3" y2="414.48" stroke="#dcdcdc" stroke-width="0.7" stroke-dasharray="1.4 1.4"/>
<line x1="648" y1="429.35" x2="703.3" y2="429.35" stroke="#dcdcdc" stroke-width="0.7" stroke-dasharray="1.4 1.4"/>
<line x1="648" y1="444.22" x2="703.3" y2="444.22" stroke="#dcdcdc" stroke-width="0.7" stroke-dasharray="1.4 1.4"/>
<line x1="648" y1="459.08" x2="703.3" y2="459.08" stroke="#dcdcdc" stroke-width="0.7" stroke-dasharray="1.4 1.4"/>
<line x1="648" y1="473.95" x2="703.3" y2="473.95" stroke="#dcdcdc" stroke-width="0.7" stroke-dasharray="1.4 1.4"/>
<line x1="648" y1="488.82" x2="703.3" y2="488.82" stroke="#dcdcdc" stroke-width="0.7" stroke-dasharray="1.4 1.4"/>
<line x1="648" y1="503.68" x2="703.3" y2="503.68" stroke="#dcdcdc" stroke-width="0.7" stroke-dasharray="1.4 1.4"/>
<line x1="648" y1="518.55" x2="703.3" y2="518.55" stroke="#dcdcdc" stroke-width="0.7" stroke-dasharray="1.4 1.4"/>
<line x1="648" y1="533.42" x2="703.3" y2="533.42" stroke="#dcdcdc" stroke-width="0.7" stroke-dasharray="1.4 1.4"/>
<line x1="648" y1="548.29" x2="703.3" y2="548.29" stroke="#dcdcdc" stroke-width="0.7" stroke-dasharray="1.4 1.4"/>
<line x1="648" y1="563.15" x2="703.3" y2="563.15" stroke="#dcdcdc" stroke-width="0.7" stroke-dasharray="1.4 1.4"/>
<line x1="648" y1="578.02" x2="703.3" y2="578.02" stroke="#dcdcdc" stroke-width="0.7" stroke-dasharray="1.4 1.4"/>
<line x1="648" y1="592.89" x2="703.3" y2="592.89" stroke="#dcdcdc" stroke-width="0.7" stroke-dasharray="1.4 1.4"/>
<line x1="648" y1="607.76" x2="703.3" y2="607.76" stroke="#dcdcdc" stroke-width="0.7" stroke-dasharray="1.4 1.4"/>
<line x1="648" y1="622.62" x2="703.3" y2="622.62" stroke="#dcdcdc" stroke-width="0.7" stroke-dasharray="1.4 1.4"/>
<line x1="663.8" y1="177.1" x2="663.8" y2="626" stroke="#dcdcdc" stroke-width="0.7" stroke-dasharray="1.4 1.4"/>
<line x1="684.7" y1="177.1" x2="684.7" y2="626" stroke="#dcdcdc" stroke-width="0.7" stroke-dasharray="1.4 1.4"/>
<line x1="716.9" y1="191.47" x2="772" y2="191.47" stroke="#dcdcdc" stroke-width="0.7" stroke-dasharray="1.4 1.4"/>
<line x1="716.9" y1="206.33" x2="772" y2="206.33" stroke="#dcdcdc" stroke-width="0.7" stroke-dasharray="1.4 1.4"/>
<line x1="716.9" y1="221.2" x2="772" y2="221.2" stroke="#dcdcdc" stroke-width="0.7" stroke-dasharray="1.4 1.4"/>
<line x1="716.9" y1="236.07" x2="772" y2="236.07" stroke="#dcdcdc" stroke-width="0.7" stroke-dasharray="1.4 1.4"/>
<line x1="716.9" y1="250.94" x2="772" y2="250.94" stroke="#dcdcdc" stroke-width="0.7" stroke-dasharray="1.4 1.4"/>
<line x1="716.9" y1="265.81" x2="772" y2="265.81" stroke="#dcdcdc" stroke-width="0.7" stroke-dasharray="1.4 1.4"/>
<line x1="716.9" y1="280.67" x2="772" y2="280.67" stroke="#dcdcdc" stroke-width="0.7" stroke-dasharray="1.4 1.4"/>
<line x1="716.9" y1="295.54" x2="772" y2="295.54" stroke="#dcdcdc" stroke-width="0.7" stroke-dasharray="1.4 1.4"/>
<line x1="716.9" y1="310.41" x2="772" y2="310.41" stroke="#dcdcdc" stroke-width="0.7" stroke-dasharray="1.4 1.4"/>
<line x1="716.9" y1="325.27" x2="772" y2="325.27" stroke="#dcdcdc" stroke-width="0.7" stroke-dasharray="1.4 1.4"/>
<line x1="716.9" y1="340.14" x2="772" y2="340.14" stroke="#dcdcdc" stroke-width="0.7" stroke-dasharray="1.4 1.4"/>
<line x1="716.9" y1="355.01" x2="772" y2="355.01" stroke="#dcdcdc" stroke-width="0.7" stroke-dasharray="1.4 1.4"/>
<line x1="716.9" y1="369.88" x2="772" y2="369.88" stroke="#dcdcdc" stroke-width="0.7" stroke-dasharray="1.4 1.4"/>
<line x1="716.9" y1="384.75" x2="772" y2="384.75" stroke="#dcdcdc" stroke-width="0.7" stroke-dasharray="1.4 1.4"/>
<line x1="716.9" y1="399.61" x2="772" y2="399.61" stroke="#dcdcdc" stroke-width="0.7" stroke-dasharray="1.4 1.4"/>
<line x1="716.9" y1="414.48" x2="772" y2="414.48" stroke="#dcdcdc" stroke-width="0.7" stroke-dasharray="1.4 1.4"/>
<line x1="716.9" y1="429.35" x2="772" y2="429.35" stroke="#dcdcdc" stroke-width="0.7" stroke-dasharray="1.4 1.4"/>
<line x1="716.9" y1="444.22" x2="772" y2="444.22" stroke="#dcdcdc" stroke-width="0.7" stroke-dasharray="1.4 1.4"/>
<line x1="716.9" y1="459.08" x2="772" y2="459.08" stroke="#dcdcdc" stroke-width="0.7" stroke-dasharray="1.4 1.4"/>
<line x1="716.9" y1="473.95" x2="772" y2="473.95" stroke="#dcdcdc" stroke-width="0.7" stroke-dasharray="1.4 1.4"/>
<line x1="716.9" y1="488.82" x2="772" y2="488.82" stroke="#dcdcdc" stroke-width="0.7" stroke-dasharray="1.4 1.4"/>
<line x1="716.9" y1="503.68" x2="772" y2="503.68" stroke="#dcdcdc" stroke-width="0.7" stroke-dasharray="1.4 1.4"/>
<line x1="716.9" y1="518.55" x2="772" y2="518.55" stroke="#dcdcdc" stroke-width="0.7" stroke-dasharray="1.4 1.4"/>
<line x1="716.9" y1="533.42" x2="772" y2="533.42" stroke="#dcdcdc" stroke-width="0.7" stroke-dasharray="1.4 1.4"/>
<line x1="716.9" y1="548.29" x2="772" y2="548.29" stroke="#dcdcdc" stroke-width="0.7" stroke-dasharray="1.4 1.4"/>
<line x1="716.9" y1="563.15" x2="772" y2="563.15" stroke="#dcdcdc" stroke-width="0.7" stroke-dasharray="1.4 1.4"/>
<line x1="716.9" y1="578.02" x2="772" y2="578.02" stroke="#dcdcdc" stroke-width="0.7" stroke-dasharray="1.4 1.4"/>
<line x1="716.9" y1="592.89" x2="772" y2="592.89" stroke="#dcdcdc" stroke-width="0.7" stroke-dasharray="1.4 1.4"/>
<line x1="716.9" y1="607.76" x2="772" y2="607.76" stroke="#dcdcdc" stroke-width="0.7" stroke-dasharray="1.4 1.4"/>
<line x1="716.9" y1="622.62" x2="772" y2="622.62" stroke="#dcdcdc" stroke-width="0.7" stroke-dasharray="1.4 1.4"/>
<line x1="741.7" y1="177.1" x2="741.7" y2="626" stroke="#dcdcdc" stroke-width="0.7" stroke-dasharray="1.4 1.4"/>
<line x1="770.6" y1="177.1" x2="770.6" y2="626" stroke="#dcdcdc" stroke-width="0.7" stroke-dasharray="1.4 1.4"/>
<line x1="786" y1="191.47" x2="841.1" y2="191.47" stroke="#dcdcdc" stroke-width="0.7" stroke-dasharray="1.4 1.4"/>
<line x1="786" y1="206.33" x2="841.1" y2="206.33" stroke="#dcdcdc" stroke-width="0.7" stroke-dasharray="1.4 1.4"/>
<line x1="786" y1="221.2" x2="841.1" y2="221.2" stroke="#dcdcdc" stroke-width="0.7" stroke-dasharray="1.4 1.4"/>
<line x1="786" y1="236.07" x2="841.1" y2="236.07" stroke="#dcdcdc" stroke-width="0.7" stroke-dasharray="1.4 1.4"/>
<line x1="786" y1="250.94" x2="841.1" y2="250.94" stroke="#dcdcdc" stroke-width="0.7" stroke-dasharray="1.4 1.4"/>
<line x1="786" y1="265.81" x2="841.1" y2="265.81" stroke="#dcdcdc" stroke-width="0.7" stroke-dasharray="1.4 1.4"/>
<line x1="786" y1="280.67" x2="841.1" y2="280.67" stroke="#dcdcdc" stroke-width="0.7" stroke-dasharray="1.4 1.4"/>
<line x1="786" y1="295.54" x2="841.1" y2="295.54" stroke="#dcdcdc" stroke-width="0.7" stroke-dasharray="1.4 1.4"/>
<line x1="786" y1="310.41" x2="841.1" y2="310.41" stroke="#dcdcdc" stroke-width="0.7" stroke-dasharray="1.4 1.4"/>
<line x1="786" y1="325.27" x2="841.1" y2="325.27" stroke="#dcdcdc" stroke-width="0.7" stroke-dasharray="1.4 1.4"/>
<line x1="786" y1="340.14" x2="841.1" y2="340.14" stroke="#dcdcdc" stroke-width="0.7" stroke-dasharray="1.4 1.4"/>
<line x1="786" y1="355.01" x2="841.1" y2="355.01" stroke="#dcdcdc" stroke-width="0.7" stroke-dasharray="1.4 1.4"/>
<line x1="786" y1="369.88" x2="841.1" y2="369.88" stroke="#dcdcdc" stroke-width="0.7" stroke-dasharray="1.4 1.4"/>
<line x1="786" y1="384.75" x2="841.1" y2="384.75" stroke="#dcdcdc" stroke-width="0.7" stroke-dasharray="1.4 1.4"/>
<line x1="786" y1="399.61" x2="841.1" y2="399.61" stroke="#dcdcdc" stroke-width="0.7" stroke-dasharray="1.4 1.4"/>
<line x1="786" y1="414.48" x2="841.1" y2="414.48" stroke="#dcdcdc" stroke-width="0.7" stroke-dasharray="1.4 1.4"/>
<line x1="786" y1="429.35" x2="841.1" y2="429.35" stroke="#dcdcdc" stroke-width="0.7" stroke-dasharray="1.4 1.4"/>
<line x1="786" y1="444.22" x2="841.1" y2="444.22" stroke="#dcdcdc" stroke-width="0.7" stroke-dasharray="1.4 1.4"/>
<line x1="786" y1="459.08" x2="841.1" y2="459.08" stroke="#dcdcdc" stroke-width="0.7" stroke-dasharray="1.4 1.4"/>
<line x1="786" y1="473.95" x2="841.1" y2="473.95" stroke="#dcdcdc" stroke-width="0.7" stroke-dasharray="1.4 1.4"/>
<line x1="786" y1="488.82" x2="841.1" y2="488.82" stroke="#dcdcdc" stroke-width="0.7" stroke-dasharray="1.4 1.4"/>
<line x1="786" y1="503.68" x2="841.1" y2="503.68" stroke="#dcdcdc" stroke-width="0.7" stroke-dasharray="1.4 1.4"/>
<line x1="786" y1="518.55" x2="841.1" y2="518.55" stroke="#dcdcdc" stroke-width="0.7" stroke-dasharray="1.4 1.4"/>
<line x1="786" y1="533.42" x2="841.1" y2="533.42" stroke="#dcdcdc" stroke-width="0.7" stroke-dasharray="1.4 1.4"/>
<line x1="786" y1="548.29" x2="841.1" y2="548.29" stroke="#dcdcdc" stroke-width="0.7" stroke-dasharray="1.4 1.4"/>
<line x1="786" y1="563.15" x2="841.1" y2="563.15" stroke="#dcdcdc" stroke-width="0.7" stroke-dasharray="1.4 1.4"/>
<line x1="786" y1="578.02" x2="841.1" y2="578.02" stroke="#dcdcdc" stroke-width="0.7" stroke-dasharray="1.4 1.4"/>
<line x1="786" y1="592.89" x2="841.1" y2="592.89" stroke="#dcdcdc" stroke-width="0.7" stroke-dasharray="1.4 1.4"/>
<line x1="786" y1="607.76" x2="841.1" y2="607.76" stroke="#dcdcdc" stroke-width="0.7" stroke-dasharray="1.4 1.4"/>
<line x1="786" y1="622.62" x2="841.1" y2="622.62" stroke="#dcdcdc" stroke-width="0.7" stroke-dasharray="1.4 1.4"/>
<line x1="785.8" y1="177.1" x2="785.8" y2="626" stroke="#dcdcdc" stroke-width="0.7" stroke-dasharray="1.4 1.4"/>
<line x1="832.2" y1="177.1" x2="832.2" y2="626" stroke="#dcdcdc" stroke-width="0.7" stroke-dasharray="1.4 1.4"/>
<line x1="854.9" y1="191.47" x2="916.2" y2="191.47" stroke="#dcdcdc" stroke-width="0.7" stroke-dasharray="1.4 1.4"/>
<line x1="854.9" y1="206.33" x2="916.2" y2="206.33" stroke="#dcdcdc" stroke-width="0.7" stroke-dasharray="1.4 1.4"/>
<line x1="854.9" y1="221.2" x2="916.2" y2="221.2" stroke="#dcdcdc" stroke-width="0.7" stroke-dasharray="1.4 1.4"/>
<line x1="854.9" y1="236.07" x2="916.2" y2="236.07" stroke="#dcdcdc" stroke-width="0.7" stroke-dasharray="1.4 1.4"/>
<line x1="854.9" y1="250.94" x2="916.2" y2="250.94" stroke="#dcdcdc" stroke-width="0.7" stroke-dasharray="1.4 1.4"/>
<line x1="854.9" y1="265.81" x2="916.2" y2="265.81" stroke="#dcdcdc" stroke-width="0.7" stroke-dasharray="1.4 1.4"/>
<line x1="854.9" y1="280.67" x2="916.2" y2="280.67" stroke="#dcdcdc" stroke-width="0.7" stroke-dasharray="1.4 1.4"/>
<line x1="854.9" y1="295.54" x2="916.2" y2="295.54" stroke="#dcdcdc" stroke-width="0.7" stroke-dasharray="1.4 1.4"/>
<line x1="854.9" y1="310.41" x2="916.2" y2="310.41" stroke="#dcdcdc" stroke-width="0.7" stroke-dasharray="1.4 1.4"/>
<line x1="854.9" y1="325.27" x2="916.2" y2="325.27" stroke="#dcdcdc" stroke-width="0.7" stroke-dasharray="1.4 1.4"/>
<line x1="854.9" y1="340.14" x2="916.2" y2="340.14" stroke="#dcdcdc" stroke-width="0.7" stroke-dasharray="1.4 1.4"/>
<line x1="854.9" y1="355.01" x2="916.2" y2="355.01" stroke="#dcdcdc" stroke-width="0.7" stroke-dasharray="1.4 1.4"/>
<line x1="854.9" y1="369.88" x2="916.2" y2="369.88" stroke="#dcdcdc" stroke-width="0.7" stroke-dasharray="1.4 1.4"/>
<line x1="854.9" y1="384.75" x2="916.2" y2="384.75" stroke="#dcdcdc" stroke-width="0.7" stroke-dasharray="1.4 1.4"/>
<line x1="854.9" y1="399.61" x2="916.2" y2="399.61" stroke="#dcdcdc" stroke-width="0.7" stroke-dasharray="1.4 1.4"/>
<line x1="854.9" y1="414.48" x2="916.2" y2="414.48" stroke="#dcdcdc" stroke-width="0.7" stroke-dasharray="1.4 1.4"/>
<line x1="854.9" y1="429.35" x2="916.2" y2="429.35" stroke="#dcdcdc" stroke-width="0.7" stroke-dasharray="1.4 1.4"/>
<line x1="854.9" y1="444.22" x2="916.2" y2="444.22" stroke="#dcdcdc" stroke-width="0.7" stroke-dasharray="1.4 1.4"/>
<line x1="854.9" y1="459.08" x2="916.2" y2="459.08" stroke="#dcdcdc" stroke-width="0.7" stroke-dasharray="1.4 1.4"/>
<line x1="854.9" y1="473.95" x2="916.2" y2="473.95" stroke="#dcdcdc" stroke-width="0.7" stroke-dasharray="1.4 1.4"/>
<line x1="854.9" y1="488.82" x2="916.2" y2="488.82" stroke="#dcdcdc" stroke-width="0.7" stroke-dasharray="1.4 1.4"/>
<line x1="854.9" y1="503.68" x2="916.2" y2="503.68" stroke="#dcdcdc" stroke-width="0.7" stroke-dasharray="1.4 1.4"/>
<line x1="854.9" y1="518.55" x2="916.2" y2="518.55" stroke="#dcdcdc" stroke-width="0.7" stroke-dasharray="1.4 1.4"/>
<line x1="854.9" y1="533.42" x2="916.2" y2="533.42" stroke="#dcdcdc" stroke-width="0.7" stroke-dasharray="1.4 1.4"/>
<line x1="854.9" y1="548.29" x2="916.2" y2="548.29" stroke="#dcdcdc" stroke-width="0.7" stroke-dasharray="1.4 1.4"/>
<line x1="854.9" y1="563.15" x2="916.2" y2="563.15" stroke="#dcdcdc" stroke-width="0.7" stroke-dasharray="1.4 1.4"/>
<line x1="854.9" y1="578.02" x2="916.2" y2="578.02" stroke="#dcdcdc" stroke-width="0.7" stroke-dasharray="1.4 1.4"/>
<line x1="854.9" y1="592.89" x2="916.2" y2="592.89" stroke="#dcdcdc" stroke-width="0.7" stroke-dasharray="1.4 1.4"/>
<line x1="854.9" y1="607.76" x2="916.2" y2="607.76" stroke="#dcdcdc" stroke-width="0.7" stroke-dasharray="1.4 1.4"/>
<line x1="854.9" y1="622.62" x2="916.2" y2="622.62" stroke="#dcdcdc" stroke-width="0.7" stroke-dasharray="1.4 1.4"/>
<line x1="855.1" y1="177.1" x2="855.1" y2="626" stroke="#dcdcdc" stroke-width="0.7" stroke-dasharray="1.4 1.4"/>
<line x1="876.3" y1="177.1" x2="876.3" y2="626" stroke="#dcdcdc" stroke-width="0.7" stroke-dasharray="1.4 1.4"/>
<line x1="897.7" y1="177.1" x2="897.7" y2="626" stroke="#dcdcdc" stroke-width="0.7" stroke-dasharray="1.4 1.4"/>
<polyline fill="none" stroke="#ff2a2a" stroke-width="0.8" stroke-linejoin="round" points="580.8,186.1 580.8,192 580.8,197.5 581.8,203.7 581.8,209.8 580.8,216 580.8,221.5 580.8,227.3 582.4,233.6 580.8,239.1 583.1,245.3 580.8,251.6 580.8,257 605.6,263.3 600.3,269.3 606.6,275 601.9,281.1 584.1,287.3 585.7,293.2 593.1,298.9 584.1,305.1 584.1,311 630.2,315.9 606.2,320.7 611.1,325.8 618.3,331.1 606.8,336.9 587.2,343.2 611.8,349.2 585.7,355.1 583.3,360.8 604.2,366.8 608.7,372.7 588,378.5 600.3,384.8 600.3,390.7 585.7,396.5 585.7,402.4 593.5,408.8 617.3,414.5 618.9,420.8 591.5,428 610.3,434 584.9,440.3 583.3,446.5 582.5,452.6 581,458.5 581,464.1 583.3,470.6 584.1,475.8 583.3,481.9 583.3,488.5 584.1,494 581,500.3 584.1,506.3 580.2,511.8 583.3,518.1 581.8,523.9 583.3,530.2 581,535.6 581.8,542.1 584.9,547.9 581.8,553.8 581.8,559.7 583.3,565.9 588.8,571.8 584.9,577.6 581,583.7 598.8,589.2 581,595.2 581.8,601.1 581,606.9 583.3,613 581,619.2 581,625.1"/>
<path fill="#ff2a2a" d="M579.7 185h2.2v2.2h-2.2zM579.7 190.9h2.2v2.2h-2.2zM579.7 196.4h2.2v2.2h-2.2zM580.7 202.6h2.2v2.2h-2.2zM580.7 208.7h2.2v2.2h-2.2zM579.7 214.9h2.2v2.2h-2.2zM579.7 220.4h2.2v2.2h-2.2zM579.7 226.2h2.2v2.2h-2.2zM581.3 232.5h2.2v2.2h-2.2zM579.7 238h2.2v2.2h-2.2zM582 244.2h2.2v2.2h-2.2zM579.7 250.5h2.2v2.2h-2.2zM579.7 255.9h2.2v2.2h-2.2zM604.5 262.2h2.2v2.2h-2.2zM599.2 268.2h2.2v2.2h-2.2zM605.5 273.9h2.2v2.2h-2.2zM600.8 280h2.2v2.2h-2.2zM583 286.2h2.2v2.2h-2.2zM584.6 292.1h2.2v2.2h-2.2zM592 297.8h2.2v2.2h-2.2zM583 304h2.2v2.2h-2.2zM583 309.9h2.2v2.2h-2.2zM629.1 314.8h2.2v2.2h-2.2zM605.1 319.6h2.2v2.2h-2.2zM610 324.7h2.2v2.2h-2.2zM617.2 330h2.2v2.2h-2.2zM605.7 335.8h2.2v2.2h-2.2zM586.1 342.1h2.2v2.2h-2.2zM610.7 348.1h2.2v2.2h-2.2zM584.6 354h2.2v2.2h-2.2zM582.2 359.7h2.2v2.2h-2.2zM603.1 365.7h2.2v2.2h-2.2zM607.6 371.6h2.2v2.2h-2.2zM586.9 377.4h2.2v2.2h-2.2zM599.2 383.7h2.2v2.2h-2.2zM599.2 389.6h2.2v2.2h-2.2zM584.6 395.4h2.2v2.2h-2.2zM584.6 401.3h2.2v2.2h-2.2zM592.4 407.7h2.2v2.2h-2.2zM616.2 413.4h2.2v2.2h-2.2zM617.8 419.7h2.2v2.2h-2.2zM590.4 426.9h2.2v2.2h-2.2zM609.2 432.9h2.2v2.2h-2.2zM583.8 439.2h2.2v2.2h-2.2zM582.2 445.4h2.2v2.2h-2.2zM581.4 451.5h2.2v2.2h-2.2zM579.9 457.4h2.2v2.2h-2.2zM579.9 463h2.2v2.2h-2.2zM582.2 469.5h2.2v2.2h-2.2zM583 474.7h2.2v2.2h-2.2zM582.2 480.8h2.2v2.2h-2.2zM582.2 487.4h2.2v2.2h-2.2zM583 492.9h2.2v2.2h-2.2zM579.9 499.2h2.2v2.2h-2.2zM583 505.2h2.2v2.2h-2.2zM579.1 510.7h2.2v2.2h-2.2zM582.2 517h2.2v2.2h-2.2zM580.7 522.8h2.2v2.2h-2.2zM582.2 529.1h2.2v2.2h-2.2zM579.9 534.5h2.2v2.2h-2.2zM580.7 541h2.2v2.2h-2.2zM583.8 546.8h2.2v2.2h-2.2zM580.7 552.7h2.2v2.2h-2.2zM580.7 558.6h2.2v2.2h-2.2zM582.2 564.8h2.2v2.2h-2.2zM587.7 570.7h2.2v2.2h-2.2zM583.8 576.5h2.2v2.2h-2.2zM579.9 582.6h2.2v2.2h-2.2zM597.7 588.1h2.2v2.2h-2.2zM579.9 594.1h2.2v2.2h-2.2zM580.7 600h2.2v2.2h-2.2zM579.9 605.8h2.2v2.2h-2.2zM582.2 611.9h2.2v2.2h-2.2zM579.9 618.1h2.2v2.2h-2.2zM579.9 624h2.2v2.2h-2.2z"/>
<rect x="647.9" y="182.81" width="53.59" height="5.86" fill="#ff6a00" stroke="#b9b9c4" stroke-width="0.5"/>
<rect x="647.9" y="189.65" width="34.06" height="5.27" fill="#ff33cc" stroke="#b9b9c4" stroke-width="0.5"/>
<rect x="647.9" y="195.9" width="20.19" height="4.49" fill="#9933ff" stroke="#b9b9c4" stroke-width="0.5"/>
<rect x="647.9" y="201.37" width="24.1" height="4.88" fill="#9933ff" stroke="#b9b9c4" stroke-width="0.5"/>
<rect x="647.9" y="207.23" width="32.5" height="5.27" fill="#ff33cc" stroke="#b9b9c4" stroke-width="0.5"/>
<rect x="647.9" y="213.28" width="31.13" height="5.08" fill="#ff33cc" stroke="#b9b9c4" stroke-width="0.5"/>
<rect x="647.9" y="219.34" width="20.98" height="4.88" fill="#9933ff" stroke="#b9b9c4" stroke-width="0.5"/>
<rect x="647.9" y="225.2" width="19.22" height="5.08" fill="#9933ff" stroke="#b9b9c4" stroke-width="0.5"/>
<rect x="647.9" y="231.25" width="28.01" height="4.88" fill="#ff33cc" stroke="#b9b9c4" stroke-width="0.5"/>
<rect x="647.9" y="237.11" width="20.98" height="4.88" fill="#9933ff" stroke="#b9b9c4" stroke-width="0.5"/>
<rect x="647.9" y="242.97" width="25.66" height="5.08" fill="#ff33cc" stroke="#b9b9c4" stroke-width="0.5"/>
<rect x="647.9" y="249.02" width="24.88" height="5.08" fill="#9933ff" stroke="#b9b9c4" stroke-width="0.5"/>
<rect x="647.9" y="255.08" width="17.85" height="4.88" fill="#9933ff" stroke="#b9b9c4" stroke-width="0.5"/>
<rect x="647.9" y="260.94" width="7.11" height="4.88" fill="#0000b8" stroke="#b9b9c4" stroke-width="0.5"/>
<rect x="647.9" y="266.8" width="24.1" height="5.27" fill="#9933ff" stroke="#b9b9c4" stroke-width="0.5"/>
<rect x="647.7" y="272.85" width="1.3" height="4.69" fill="#3a3acc"/>
<rect x="647.9" y="278.52" width="17.07" height="4.88" fill="#9933ff" stroke="#b9b9c4" stroke-width="0.5"/>
<rect x="647.9" y="284.38" width="20.19" height="5.47" fill="#9933ff" stroke="#b9b9c4" stroke-width="0.5"/>
<rect x="647.9" y="290.62" width="17.07" height="4.49" fill="#9933ff" stroke="#b9b9c4" stroke-width="0.5"/>
<rect x="647.9" y="296.12" width="18.83" height="5.66" fill="#9933ff" stroke="#b9b9c4" stroke-width="0.5"/>
<rect x="647.9" y="302.77" width="22.34" height="4.88" fill="#9933ff" stroke="#b9b9c4" stroke-width="0.5"/>
<rect x="647.9" y="308.62" width="21.37" height="4.88" fill="#9933ff" stroke="#b9b9c4" stroke-width="0.5"/>
<rect x="647.9" y="314.48" width="7.69" height="3.52" fill="#0000b8" stroke="#b9b9c4" stroke-width="0.5"/>
<rect x="647.9" y="318.78" width="11.6" height="4.88" fill="#00ccff" stroke="#b9b9c4" stroke-width="0.5"/>
<rect x="647.9" y="324.64" width="7.11" height="3.91" fill="#0000b8" stroke="#b9b9c4" stroke-width="0.5"/>
<rect x="647.9" y="329.52" width="8.48" height="4.49" fill="#00ccff" stroke="#b9b9c4" stroke-width="0.5"/>
<rect x="647.9" y="334.8" width="8.08" height="4.69" fill="#00ccff" stroke="#b9b9c4" stroke-width="0.5"/>
<rect x="647.9" y="340.46" width="11.6" height="5.27" fill="#00ccff" stroke="#b9b9c4" stroke-width="0.5"/>
<rect x="647.9" y="346.71" width="8.08" height="4.49" fill="#00ccff" stroke="#b9b9c4" stroke-width="0.5"/>
<rect x="647.9" y="352.18" width="8.48" height="4.88" fill="#00ccff" stroke="#b9b9c4" stroke-width="0.5"/>
<rect x="647.9" y="358.04" width="9.65" height="5.27" fill="#00ccff" stroke="#b9b9c4" stroke-width="0.5"/>
<rect x="647.7" y="364.29" width="1.3" height="4.88" fill="#3a3acc"/>
<rect x="647.9" y="370.54" width="7.11" height="4.49" fill="#0000b8" stroke="#b9b9c4" stroke-width="0.5"/>
<rect x="647.9" y="376.01" width="15.51" height="5.27" fill="#9933ff" stroke="#b9b9c4" stroke-width="0.5"/>
<rect x="647.7" y="382.26" width="1.3" height="11.33" fill="#3a3acc"/>
<rect x="647.9" y="394.17" width="8.87" height="5.27" fill="#00ccff" stroke="#b9b9c4" stroke-width="0.5"/>
<rect x="647.7" y="400.42" width="1.3" height="4.88" fill="#3a3acc"/>
<rect x="647.9" y="406.28" width="8.87" height="5.27" fill="#00ccff" stroke="#b9b9c4" stroke-width="0.5"/>
<rect x="647.9" y="412.56" width="7.11" height="4.88" fill="#0000b8" stroke="#b9b9c4" stroke-width="0.5"/>
<rect x="647.9" y="418.42" width="11.01" height="5.27" fill="#00ccff" stroke="#b9b9c4" stroke-width="0.5"/>
<rect x="647.9" y="424.67" width="8.08" height="5.86" fill="#00ccff" stroke="#b9b9c4" stroke-width="0.5"/>
<rect x="647.9" y="431.51" width="16.29" height="5.47" fill="#9933ff" stroke="#b9b9c4" stroke-width="0.5"/>
<rect x="647.7" y="437.95" width="1.3" height="5.27" fill="#3a3acc"/>
<rect x="647.9" y="444.2" width="22.34" height="5.27" fill="#9933ff" stroke="#b9b9c4" stroke-width="0.5"/>
<rect x="647.9" y="450.26" width="24.88" height="4.69" fill="#9933ff" stroke="#b9b9c4" stroke-width="0.5"/>
<rect x="647.9" y="455.92" width="31.13" height="5.47" fill="#ff33cc" stroke="#b9b9c4" stroke-width="0.5"/>
<rect x="647.9" y="462.17" width="26.44" height="5.08" fill="#ff33cc" stroke="#b9b9c4" stroke-width="0.5"/>
<rect x="647.9" y="468.03" width="35.04" height="4.88" fill="#ff33cc" stroke="#b9b9c4" stroke-width="0.5"/>
<rect x="647.9" y="473.7" width="24.88" height="5.27" fill="#9933ff" stroke="#b9b9c4" stroke-width="0.5"/>
<rect x="647.9" y="479.75" width="26.44" height="5.08" fill="#ff33cc" stroke="#b9b9c4" stroke-width="0.5"/>
<rect x="647.9" y="485.8" width="29.57" height="5.27" fill="#ff33cc" stroke="#b9b9c4" stroke-width="0.5"/>
<rect x="647.9" y="491.86" width="31.91" height="5.08" fill="#ff33cc" stroke="#b9b9c4" stroke-width="0.5"/>
<rect x="647.9" y="497.91" width="20.98" height="4.88" fill="#9933ff" stroke="#b9b9c4" stroke-width="0.5"/>
<rect x="647.9" y="503.77" width="28.01" height="5.27" fill="#ff33cc" stroke="#b9b9c4" stroke-width="0.5"/>
<rect x="647.9" y="509.86" width="28.01" height="4.88" fill="#ff33cc" stroke="#b9b9c4" stroke-width="0.5"/>
<rect x="647.9" y="515.33" width="25.66" height="5.66" fill="#9933ff" stroke="#b9b9c4" stroke-width="0.5"/>
<rect x="647.9" y="521.97" width="22.34" height="4.88" fill="#9933ff" stroke="#b9b9c4" stroke-width="0.5"/>
<rect x="647.9" y="527.83" width="28.01" height="5.08" fill="#ff33cc" stroke="#b9b9c4" stroke-width="0.5"/>
<rect x="647.9" y="533.69" width="22.34" height="4.49" fill="#9933ff" stroke="#b9b9c4" stroke-width="0.5"/>
<rect x="647.9" y="539.16" width="30.35" height="5.47" fill="#ff33cc" stroke="#b9b9c4" stroke-width="0.5"/>
<rect x="647.9" y="545.41" width="28.01" height="4.49" fill="#ff33cc" stroke="#b9b9c4" stroke-width="0.5"/>
<rect x="647.9" y="550.88" width="30.35" height="5.47" fill="#ff33cc" stroke="#b9b9c4" stroke-width="0.5"/>
<rect x="647.9" y="557.12" width="41.29" height="5.47" fill="#ff33cc" stroke="#b9b9c4" stroke-width="0.5"/>
<rect x="647.9" y="563.57" width="30.35" height="4.88" fill="#ff33cc" stroke="#b9b9c4" stroke-width="0.5"/>
<rect x="647.9" y="569.43" width="33.48" height="4.88" fill="#ff33cc" stroke="#b9b9c4" stroke-width="0.5"/>
<rect x="647.9" y="575.29" width="28.79" height="5.27" fill="#ff33cc" stroke="#b9b9c4" stroke-width="0.5"/>
<rect x="647.9" y="581.54" width="23.32" height="4.88" fill="#9933ff" stroke="#b9b9c4" stroke-width="0.5"/>
<rect x="647.9" y="587.4" width="18.63" height="4.49" fill="#9933ff" stroke="#b9b9c4" stroke-width="0.5"/>
<rect x="647.9" y="592.87" width="20.19" height="5.27" fill="#9933ff" stroke="#b9b9c4" stroke-width="0.5"/>
<rect x="647.9" y="599.12" width="32.69" height="5.47" fill="#ff33cc" stroke="#b9b9c4" stroke-width="0.5"/>
<rect x="647.9" y="605.37" width="22.34" height="4.49" fill="#9933ff" stroke="#b9b9c4" stroke-width="0.5"/>
<rect x="647.9" y="610.64" width="21.76" height="5.08" fill="#9933ff" stroke="#b9b9c4" stroke-width="0.5"/>
<rect x="647.9" y="616.7" width="28.79" height="5.47" fill="#ff33cc" stroke="#b9b9c4" stroke-width="0.5"/>
<rect x="647.9" y="623.14" width="18.63" height="5.86" fill="#9933ff" stroke="#b9b9c4" stroke-width="0.5"/>
<path fill="#00cc00" d="M716.7 184.8 L717.9 184.8 L726.7 192 L729.2 197.5 L730 203.7 L730 209.8 L730.6 216 L727.7 221.5 L726.7 227.3 L741.7 233.6 L735.65 236.35 Q723.88 238.93 735 242.2 L740.4 245.3 L735.8 248.45 Q728.08 251.82 732.85 254.3 L734.5 257 L749.2 263.3 L757.9 269.3 L753.05 272.15 Q739.78 274.9 760.2 278.05 L772.2 281.1 L755.3 284.2 Q728 287.38 742.3 290.25 L746.2 293.2 L755.6 298.9 L739 305.1 L738 308.05 Q734.05 311.25 741.9 313.45 L746.8 315.9 L745.85 318.3 Q742.98 320.62 747.8 323.25 L750.7 325.8 L743.9 331.1 L741.45 334 Q736.08 336.77 742.4 340.05 L745.8 343.2 L742.9 346.2 Q737.58 349.23 741.95 352.15 L743.9 355.1 L750.7 360.8 L740.9 366.8 L739.45 369.75 Q732.88 372.72 746.8 375.6 L755.6 378.5 L749.7 384.8 L749.7 390.7 L753.2 396.5 L749.7 402.4 L740 408.8 L737.55 411.65 Q731.43 414.35 740 417.65 L744.9 420.8 L745.8 428 L742.9 431 Q735.15 433.93 746.8 437.15 L753.6 440.3 L738.5 443.4 Q716.7 446.52 732.65 449.55 L741.9 452.6 L730.2 455.55 Q716.7 458.57 722.9 461.3 L727.3 464.1 L736.1 470.6 L740 475.8 L745.8 481.9 L739 485.2 Q726.13 488.77 737.55 491.25 L742.9 494 L727.3 500.3 L726.3 503.3 Q723.32 506.43 728.25 509.05 L731.2 511.8 L747.8 518.1 L738 523.9 L738 530.2 L733.1 532.9 Q721.83 535.33 736.05 538.85 L743.9 542.1 L739.5 545 Q732.43 547.88 736.05 550.85 L737 553.8 L728.25 556.75 Q716.7 559.63 728.75 562.8 L738 565.9 L733.6 568.85 Q719.18 571.82 744.85 574.7 L760.5 577.6 L730.2 583.7 L729.2 589.2 L731.2 595.2 L730.6 601.1 L730.2 606.9 L732.2 613 L741.9 619.2 L728.2 625.1 L728.2 630 L716.7 630 z"/>
<g fill="#ff7a0a"><circle cx="787.2" cy="185.7" r="1.45"/><circle cx="787.2" cy="192" r="1.45"/><circle cx="787.2" cy="197.5" r="1.45"/><circle cx="787.2" cy="203.7" r="1.45"/><circle cx="787.2" cy="209.8" r="1.45"/><circle cx="787.2" cy="216" r="1.45"/><circle cx="787.2" cy="221.5" r="1.45"/><circle cx="787.2" cy="227.3" r="1.45"/><circle cx="787.2" cy="233.6" r="1.45"/><circle cx="787.2" cy="239.1" r="1.45"/><circle cx="787.2" cy="245.3" r="1.45"/><circle cx="787.2" cy="251.6" r="1.45"/><circle cx="787.2" cy="257" r="1.45"/><circle cx="798.8" cy="263.3" r="1.45"/><circle cx="814.2" cy="269.3" r="1.45"/><circle cx="798" cy="275" r="1.45"/><circle cx="819.7" cy="281.1" r="1.45"/><circle cx="793.3" cy="287.3" r="1.45"/><circle cx="794.9" cy="293.4" r="1.45"/><circle cx="801.1" cy="298.9" r="1.45"/><circle cx="794.9" cy="305.1" r="1.45"/><circle cx="788.6" cy="311" r="1.45"/><circle cx="807.4" cy="315.9" r="1.45"/><circle cx="792.5" cy="320.7" r="1.45"/><circle cx="800.3" cy="325.8" r="1.45"/><circle cx="798" cy="331.1" r="1.45"/><circle cx="805" cy="336.9" r="1.45"/><circle cx="798" cy="343.2" r="1.45"/><circle cx="807.4" cy="349.2" r="1.45"/><circle cx="793.3" cy="354.5" r="1.45"/><circle cx="787.2" cy="360.8" r="1.45"/><circle cx="818.1" cy="366.8" r="1.45"/><circle cx="814.2" cy="373.1" r="1.45"/><circle cx="787.2" cy="378.5" r="1.45"/><circle cx="794.9" cy="384.8" r="1.45"/><circle cx="798.8" cy="390.7" r="1.45"/><circle cx="792.5" cy="396.5" r="1.45"/><circle cx="796.4" cy="402.4" r="1.45"/><circle cx="811.1" cy="408.8" r="1.45"/><circle cx="792.5" cy="414.5" r="1.45"/><circle cx="800.3" cy="420.8" r="1.45"/><circle cx="805" cy="428" r="1.45"/><circle cx="810.3" cy="434" r="1.45"/><circle cx="791" cy="440.3" r="1.45"/><circle cx="787.2" cy="446.5" r="1.45"/><circle cx="787.2" cy="452.6" r="1.45"/><circle cx="787.2" cy="458.5" r="1.45"/><circle cx="787.2" cy="464.1" r="1.45"/><circle cx="788.6" cy="470.6" r="1.45"/><circle cx="787.2" cy="475.8" r="1.45"/><circle cx="788.6" cy="482.3" r="1.45"/><circle cx="787.2" cy="488.5" r="1.45"/><circle cx="787.2" cy="494" r="1.45"/><circle cx="787.2" cy="500.3" r="1.45"/><circle cx="787.2" cy="506.3" r="1.45"/><circle cx="787.2" cy="511.8" r="1.45"/><circle cx="787.2" cy="518.1" r="1.45"/><circle cx="787.2" cy="523.9" r="1.45"/><circle cx="787.2" cy="530.2" r="1.45"/><circle cx="787.2" cy="535.6" r="1.45"/><circle cx="787.2" cy="542.1" r="1.45"/><circle cx="787.2" cy="547.9" r="1.45"/><circle cx="788.6" cy="553.8" r="1.45"/><circle cx="787.2" cy="559.7" r="1.45"/><circle cx="787.2" cy="565.9" r="1.45"/><circle cx="787.2" cy="571.8" r="1.45"/><circle cx="791" cy="577.6" r="1.45"/><circle cx="787.2" cy="583.7" r="1.45"/><circle cx="787.2" cy="589.2" r="1.45"/><circle cx="787.2" cy="595.2" r="1.45"/><circle cx="787.2" cy="601.1" r="1.45"/><circle cx="787.2" cy="606.9" r="1.45"/><circle cx="787.2" cy="613" r="1.45"/><circle cx="787.2" cy="619.2" r="1.45"/><circle cx="787.2" cy="625.1" r="1.45"/></g>
<path fill="url(#co2)" d="M854.8 184.8 L856.6 184.8 L858.5 192 L858.1 197.5 L857.2 203.7 L858.1 209.8 L859.5 216 L857.2 221.5 L857.6 227.3 L860.9 233.6 L859.25 236.35 Q855.8 238.93 859.55 242.2 L861.5 245.3 L858.1 251.6 L858.5 257 L902.5 263.3 L894.2 266.3 Q879.07 269.38 891.25 272.15 L896.6 275 L883.9 281.1 L874.65 284.2 Q860.05 287.38 866.85 290.25 L868.3 293.2 L875.7 298.9 L869.3 305.1 L866.85 308.05 Q855.75 311.25 879.25 313.45 L894.1 315.9 L888.5 318.3 Q876.42 320.62 890.25 323.25 L897.6 325.8 L899.5 331.1 L896.6 336.9 L893.2 340.05 Q884.45 343.27 897.1 346.2 L904.4 349.2 L895.6 355.1 L890.75 357.95 Q879.32 360.73 894.2 363.8 L902.5 366.8 L897.6 373.1 L887.85 375.8 Q868.35 378.27 887.85 381.65 L897.6 384.8 L901.5 390.7 L893.2 393.6 Q878.07 396.48 890.25 399.45 L895.6 402.4 L897.6 408.8 L897.6 414.5 L892.7 420.8 L890.8 428 L888.85 431 Q883.5 433.93 891.75 437.15 L896.6 440.3 L877.1 443.4 Q854.8 446.52 858.55 449.55 L859.5 452.6 L857.6 458.5 L858.5 464.1 L862 470.6 L860.75 473.2 Q858.52 475.57 860.2 478.85 L860.9 481.9 L860.1 488.5 L859.5 494 L857.6 500.3 L856.6 506.3 L858.1 511.8 L862.4 518.1 L859.5 523.9 L860.5 530.2 L857.6 535.6 L858.5 542.1 L860.5 547.9 L859.5 553.8 L858.55 556.75 Q856.3 559.63 859.25 562.8 L860.9 565.9 L862.4 571.8 L865.4 577.6 L862.95 580.65 Q858.8 583.85 861.45 586.45 L862.4 589.2 L859.5 595.2 L858.5 601.1 L858.5 606.9 L859.5 613 L857.6 619.2 L857.6 625.1 L857.6 630 L854.8 630 z"/>
<line x1="509.9" y1="176.6" x2="509.9" y2="626" stroke="#c2c2c2" stroke-width="0.9"/>
<line x1="565.5" y1="176.6" x2="565.5" y2="626" stroke="#c2c2c2" stroke-width="0.9"/>
<line x1="509.6" y1="176.6" x2="565.8" y2="176.6" stroke="#8c8c8c" stroke-width="1"/>
<rect x="509.6" y="182.55" width="56.2" height="77.55" fill="#f26830"/>
<line x1="510.3" y1="182.55" x2="565.1" y2="182.55" stroke="#3d1709" stroke-width="0.5" opacity="0.8"/>
<line x1="510.3" y1="260.1" x2="565.1" y2="260.1" stroke="#3d1709" stroke-width="0.5" opacity="0.8"/>
<text x="527.4" y="223.92" font-size="7.2" fill="#3d1709" textLength="20.6" lengthAdjust="spacing" font-weight="bold">GRAN</text>
<rect x="509.6" y="260.1" width="56.2" height="57.75" fill="#5cb85c"/>
<line x1="510.3" y1="260.1" x2="565.1" y2="260.1" stroke="#0e2e10" stroke-width="0.5" opacity="0.8"/>
<line x1="510.3" y1="317.84" x2="565.1" y2="317.84" stroke="#0e2e10" stroke-width="0.5" opacity="0.8"/>
<text x="529.98" y="291.57" font-size="7.2" fill="#0e2e10" textLength="15.45" lengthAdjust="spacing" font-weight="bold">SHL</text>
<rect x="509.6" y="317.84" width="56.2" height="125.48" fill="#f9a820"/>
<line x1="510.3" y1="317.84" x2="565.1" y2="317.84" stroke="#3d2905" stroke-width="0.5" opacity="0.8"/>
<line x1="510.3" y1="443.32" x2="565.1" y2="443.32" stroke="#3d2905" stroke-width="0.5" opacity="0.8"/>
<text x="524.83" y="383.18" font-size="7.2" fill="#3d2905" textLength="25.75" lengthAdjust="spacing" font-weight="bold">MAFIC</text>
<rect x="509.6" y="443.32" width="56.2" height="209.04" fill="#f26830"/>
<line x1="510.3" y1="443.32" x2="565.1" y2="443.32" stroke="#3d1709" stroke-width="0.5" opacity="0.8"/>
<text x="527.4" y="607.6" font-size="7.2" fill="#3d1709" textLength="20.6" lengthAdjust="spacing" font-weight="bold">GRAN</text>
<line x1="578.6" y1="176.6" x2="578.6" y2="626" stroke="#c2c2c2" stroke-width="0.9"/>
<line x1="634.6" y1="176.6" x2="634.6" y2="626" stroke="#c2c2c2" stroke-width="0.9"/>
<line x1="578.3" y1="176.6" x2="634.9" y2="176.6" stroke="#8c8c8c" stroke-width="1"/>
<line x1="580.2" y1="174.6" x2="580.2" y2="176.6" stroke="#8c8c8c" stroke-width="0.8"/>
<text x="578.15" y="171.3" font-size="7.5" fill="#1a1a1a">0</text>
<line x1="601.3" y1="174.6" x2="601.3" y2="176.6" stroke="#8c8c8c" stroke-width="0.8"/>
<text x="594.8" y="171.3" font-size="7.5" fill="#1a1a1a" textLength="13.2" lengthAdjust="spacing">100</text>
<line x1="622.2" y1="174.6" x2="622.2" y2="176.6" stroke="#8c8c8c" stroke-width="0.8"/>
<text x="615.7" y="171.3" font-size="7.5" fill="#1a1a1a" textLength="13.2" lengthAdjust="spacing">200</text>
<line x1="647.5" y1="176.6" x2="647.5" y2="626" stroke="#c2c2c2" stroke-width="0.9"/>
<line x1="703.8" y1="176.6" x2="703.8" y2="626" stroke="#c2c2c2" stroke-width="0.9"/>
<line x1="647.2" y1="176.6" x2="704.1" y2="176.6" stroke="#8c8c8c" stroke-width="1"/>
<line x1="663.8" y1="174.6" x2="663.8" y2="176.6" stroke="#8c8c8c" stroke-width="0.8"/>
<text x="659.5" y="171.3" font-size="7.5" fill="#1a1a1a" textLength="8.8" lengthAdjust="spacing">25</text>
<line x1="684.7" y1="174.6" x2="684.7" y2="176.6" stroke="#8c8c8c" stroke-width="0.8"/>
<text x="680.4" y="171.3" font-size="7.5" fill="#1a1a1a" textLength="8.8" lengthAdjust="spacing">50</text>
<line x1="716.4" y1="176.6" x2="716.4" y2="626" stroke="#c2c2c2" stroke-width="0.9"/>
<line x1="772.5" y1="176.6" x2="772.5" y2="626" stroke="#c2c2c2" stroke-width="0.9"/>
<line x1="716.1" y1="176.6" x2="772.8" y2="176.6" stroke="#8c8c8c" stroke-width="1"/>
<line x1="741.7" y1="174.6" x2="741.7" y2="176.6" stroke="#8c8c8c" stroke-width="0.8"/>
<text x="735.2" y="171.3" font-size="7.5" fill="#1a1a1a" textLength="13.2" lengthAdjust="spacing">100</text>
<line x1="770.6" y1="174.6" x2="770.6" y2="176.6" stroke="#8c8c8c" stroke-width="0.8"/>
<text x="764.1" y="171.3" font-size="7.5" fill="#1a1a1a" textLength="13.2" lengthAdjust="spacing">200</text>
<line x1="785.5" y1="176.6" x2="785.5" y2="626" stroke="#c2c2c2" stroke-width="0.9"/>
<line x1="841.6" y1="176.6" x2="841.6" y2="626" stroke="#c2c2c2" stroke-width="0.9"/>
<line x1="785.2" y1="176.6" x2="841.9" y2="176.6" stroke="#8c8c8c" stroke-width="1"/>
<line x1="785.8" y1="174.6" x2="785.8" y2="176.6" stroke="#8c8c8c" stroke-width="0.8"/>
<text x="783.75" y="171.3" font-size="7.5" fill="#1a1a1a">0</text>
<line x1="832.2" y1="174.6" x2="832.2" y2="176.6" stroke="#8c8c8c" stroke-width="0.8"/>
<text x="825.7" y="171.3" font-size="7.5" fill="#1a1a1a" textLength="13.2" lengthAdjust="spacing">250</text>
<line x1="854.4" y1="176.6" x2="854.4" y2="626" stroke="#c2c2c2" stroke-width="0.9"/>
<line x1="916.7" y1="176.6" x2="916.7" y2="626" stroke="#c2c2c2" stroke-width="0.9"/>
<line x1="854.1" y1="176.6" x2="917" y2="176.6" stroke="#8c8c8c" stroke-width="1"/>
<line x1="855.1" y1="174.6" x2="855.1" y2="176.6" stroke="#8c8c8c" stroke-width="0.8"/>
<text x="853.05" y="171.3" font-size="7.5" fill="#1a1a1a">0</text>
<line x1="876.3" y1="174.6" x2="876.3" y2="176.6" stroke="#8c8c8c" stroke-width="0.8"/>
<text x="872" y="171.3" font-size="7.5" fill="#1a1a1a" textLength="8.8" lengthAdjust="spacing">25</text>
<line x1="897.7" y1="174.6" x2="897.7" y2="176.6" stroke="#8c8c8c" stroke-width="0.8"/>
<text x="893.4" y="171.3" font-size="7.5" fill="#1a1a1a" textLength="8.8" lengthAdjust="spacing">50</text>
<line x1="507.2" y1="176.6" x2="509.7" y2="176.6" stroke="#777" stroke-width="0.9"/>
<text x="497.9" y="179.8" font-size="7.5" fill="#1a1a1a">0</text>
<line x1="507.2" y1="191.47" x2="509.7" y2="191.47" stroke="#777" stroke-width="0.9"/>
<text x="491" y="194.67" font-size="7.5" fill="#1a1a1a" textLength="11.2" lengthAdjust="spacing">2.5</text>
<line x1="507.2" y1="206.33" x2="509.7" y2="206.33" stroke="#777" stroke-width="0.9"/>
<text x="497.9" y="209.53" font-size="7.5" fill="#1a1a1a">5</text>
<line x1="507.2" y1="221.2" x2="509.7" y2="221.2" stroke="#777" stroke-width="0.9"/>
<text x="491" y="224.4" font-size="7.5" fill="#1a1a1a" textLength="11.2" lengthAdjust="spacing">7.5</text>
<line x1="507.2" y1="236.07" x2="509.7" y2="236.07" stroke="#777" stroke-width="0.9"/>
<text x="493.3" y="239.27" font-size="7.5" fill="#1a1a1a" textLength="8.9" lengthAdjust="spacing">10</text>
<line x1="507.2" y1="250.94" x2="509.7" y2="250.94" stroke="#777" stroke-width="0.9"/>
<text x="486.5" y="254.14" font-size="7.5" fill="#1a1a1a" textLength="15.7" lengthAdjust="spacing">12.5</text>
<line x1="507.2" y1="265.81" x2="509.7" y2="265.81" stroke="#777" stroke-width="0.9"/>
<text x="493.3" y="269" font-size="7.5" fill="#1a1a1a" textLength="8.9" lengthAdjust="spacing">15</text>
<line x1="507.2" y1="280.67" x2="509.7" y2="280.67" stroke="#777" stroke-width="0.9"/>
<text x="486.5" y="283.87" font-size="7.5" fill="#1a1a1a" textLength="15.7" lengthAdjust="spacing">17.5</text>
<line x1="507.2" y1="295.54" x2="509.7" y2="295.54" stroke="#777" stroke-width="0.9"/>
<text x="493.3" y="298.74" font-size="7.5" fill="#1a1a1a" textLength="8.9" lengthAdjust="spacing">20</text>
<line x1="507.2" y1="310.41" x2="509.7" y2="310.41" stroke="#777" stroke-width="0.9"/>
<text x="486.5" y="313.61" font-size="7.5" fill="#1a1a1a" textLength="15.7" lengthAdjust="spacing">22.5</text>
<line x1="507.2" y1="325.27" x2="509.7" y2="325.27" stroke="#777" stroke-width="0.9"/>
<text x="493.3" y="328.47" font-size="7.5" fill="#1a1a1a" textLength="8.9" lengthAdjust="spacing">25</text>
<line x1="507.2" y1="340.14" x2="509.7" y2="340.14" stroke="#777" stroke-width="0.9"/>
<text x="486.5" y="343.34" font-size="7.5" fill="#1a1a1a" textLength="15.7" lengthAdjust="spacing">27.5</text>
<line x1="507.2" y1="355.01" x2="509.7" y2="355.01" stroke="#777" stroke-width="0.9"/>
<text x="493.3" y="358.21" font-size="7.5" fill="#1a1a1a" textLength="8.9" lengthAdjust="spacing">30</text>
<line x1="507.2" y1="369.88" x2="509.7" y2="369.88" stroke="#777" stroke-width="0.9"/>
<text x="486.5" y="373.08" font-size="7.5" fill="#1a1a1a" textLength="15.7" lengthAdjust="spacing">32.5</text>
<line x1="507.2" y1="384.75" x2="509.7" y2="384.75" stroke="#777" stroke-width="0.9"/>
<text x="493.3" y="387.94" font-size="7.5" fill="#1a1a1a" textLength="8.9" lengthAdjust="spacing">35</text>
<line x1="507.2" y1="399.61" x2="509.7" y2="399.61" stroke="#777" stroke-width="0.9"/>
<text x="486.5" y="402.81" font-size="7.5" fill="#1a1a1a" textLength="15.7" lengthAdjust="spacing">37.5</text>
<line x1="507.2" y1="414.48" x2="509.7" y2="414.48" stroke="#777" stroke-width="0.9"/>
<text x="493.3" y="417.68" font-size="7.5" fill="#1a1a1a" textLength="8.9" lengthAdjust="spacing">40</text>
<line x1="507.2" y1="429.35" x2="509.7" y2="429.35" stroke="#777" stroke-width="0.9"/>
<text x="486.5" y="432.55" font-size="7.5" fill="#1a1a1a" textLength="15.7" lengthAdjust="spacing">42.5</text>
<line x1="507.2" y1="444.22" x2="509.7" y2="444.22" stroke="#777" stroke-width="0.9"/>
<text x="493.3" y="447.42" font-size="7.5" fill="#1a1a1a" textLength="8.9" lengthAdjust="spacing">45</text>
<line x1="507.2" y1="459.08" x2="509.7" y2="459.08" stroke="#777" stroke-width="0.9"/>
<text x="486.5" y="462.28" font-size="7.5" fill="#1a1a1a" textLength="15.7" lengthAdjust="spacing">47.5</text>
<line x1="507.2" y1="473.95" x2="509.7" y2="473.95" stroke="#777" stroke-width="0.9"/>
<text x="493.3" y="477.15" font-size="7.5" fill="#1a1a1a" textLength="8.9" lengthAdjust="spacing">50</text>
<line x1="507.2" y1="488.82" x2="509.7" y2="488.82" stroke="#777" stroke-width="0.9"/>
<text x="486.5" y="492.02" font-size="7.5" fill="#1a1a1a" textLength="15.7" lengthAdjust="spacing">52.5</text>
<line x1="507.2" y1="503.68" x2="509.7" y2="503.68" stroke="#777" stroke-width="0.9"/>
<text x="493.3" y="506.88" font-size="7.5" fill="#1a1a1a" textLength="8.9" lengthAdjust="spacing">55</text>
<line x1="507.2" y1="518.55" x2="509.7" y2="518.55" stroke="#777" stroke-width="0.9"/>
<text x="486.5" y="521.75" font-size="7.5" fill="#1a1a1a" textLength="15.7" lengthAdjust="spacing">57.5</text>
<line x1="507.2" y1="533.42" x2="509.7" y2="533.42" stroke="#777" stroke-width="0.9"/>
<text x="493.3" y="536.62" font-size="7.5" fill="#1a1a1a" textLength="8.9" lengthAdjust="spacing">60</text>
<line x1="507.2" y1="548.29" x2="509.7" y2="548.29" stroke="#777" stroke-width="0.9"/>
<text x="486.5" y="551.49" font-size="7.5" fill="#1a1a1a" textLength="15.7" lengthAdjust="spacing">62.5</text>
<line x1="507.2" y1="563.15" x2="509.7" y2="563.15" stroke="#777" stroke-width="0.9"/>
<text x="493.3" y="566.36" font-size="7.5" fill="#1a1a1a" textLength="8.9" lengthAdjust="spacing">65</text>
<line x1="507.2" y1="578.02" x2="509.7" y2="578.02" stroke="#777" stroke-width="0.9"/>
<text x="486.5" y="581.22" font-size="7.5" fill="#1a1a1a" textLength="15.7" lengthAdjust="spacing">67.5</text>
<line x1="507.2" y1="592.89" x2="509.7" y2="592.89" stroke="#777" stroke-width="0.9"/>
<text x="493.3" y="596.09" font-size="7.5" fill="#1a1a1a" textLength="8.9" lengthAdjust="spacing">70</text>
<line x1="507.2" y1="607.76" x2="509.7" y2="607.76" stroke="#777" stroke-width="0.9"/>
<text x="486.5" y="610.96" font-size="7.5" fill="#1a1a1a" textLength="15.7" lengthAdjust="spacing">72.5</text>
<line x1="507.2" y1="622.62" x2="509.7" y2="622.62" stroke="#777" stroke-width="0.9"/>
<text x="493.3" y="625.83" font-size="7.5" fill="#1a1a1a" textLength="8.9" lengthAdjust="spacing">75</text>
<text x="524.9" y="159.4" font-size="9.4" fill="#222" textLength="25.6" lengthAdjust="spacing">GEOL</text>
<text x="588.3" y="159.4" font-size="9.4" fill="#222" textLength="36.6" lengthAdjust="spacing">Cu_ppm</text>
<text x="657.5" y="159.4" font-size="9.4" fill="#222" textLength="36.2" lengthAdjust="spacing">Pb_ppm</text>
<text x="726.5" y="159.4" font-size="9.4" fill="#222" textLength="35.8" lengthAdjust="spacing">Zn_ppm</text>
<text x="796.4" y="159.4" font-size="9.4" fill="#222" textLength="34" lengthAdjust="spacing">Ni_ppm</text>
<text x="866.3" y="159.4" font-size="9.4" fill="#222" textLength="36.6" lengthAdjust="spacing">Co_ppm</text>
<text x="0" y="0" font-size="8.7" fill="#333" textLength="65" lengthAdjust="spacing" transform="translate(475.8 543) rotate(-90)">XYZ1035 Depth</text>
<rect x="986.9" y="182.44" width="63.4" height="75.95" fill="#f0e3dd"/>
<line x1="987.6" y1="182.44" x2="1049.6" y2="182.44" stroke="#3a2a24" stroke-width="0.5" opacity="0.8"/>
<line x1="987.6" y1="258.39" x2="1049.6" y2="258.39" stroke="#3a2a24" stroke-width="0.5" opacity="0.8"/>
<rect x="986.9" y="258.39" width="63.4" height="46.74" fill="#fdd23e"/>
<line x1="987.6" y1="258.39" x2="1049.6" y2="258.39" stroke="#4a3a00" stroke-width="0.5" opacity="0.8"/>
<line x1="987.6" y1="305.12" x2="1049.6" y2="305.12" stroke="#4a3a00" stroke-width="0.5" opacity="0.8"/>
<rect x="986.9" y="305.12" width="63.4" height="121.4" fill="#f0e3dd"/>
<line x1="987.6" y1="305.12" x2="1049.6" y2="305.12" stroke="#3a2a24" stroke-width="0.5" opacity="0.8"/>
<line x1="987.6" y1="426.52" x2="1049.6" y2="426.52" stroke="#3a2a24" stroke-width="0.5" opacity="0.8"/>
<rect x="986.9" y="426.52" width="63.4" height="275.86" fill="#fdd23e"/>
<line x1="987.6" y1="426.52" x2="1049.6" y2="426.52" stroke="#4a3a00" stroke-width="0.5" opacity="0.8"/>
<line x1="987.2" y1="176.6" x2="987.2" y2="626" stroke="#c2c2c2" stroke-width="0.9"/>
<line x1="987" y1="176.6" x2="1030" y2="176.6" stroke="#8c8c8c" stroke-width="1"/>
<text x="996.6" y="223" font-size="7.2" fill="#3a2a24" textLength="41.6" lengthAdjust="spacing" font-weight="bold">Weathered</text>
<text x="1006.7" y="284.2" font-size="7.2" fill="#4a3a00" textLength="21.6" lengthAdjust="spacing" font-weight="bold">Fresh</text>
<text x="996.6" y="368.2" font-size="7.2" fill="#3a2a24" textLength="41.6" lengthAdjust="spacing" font-weight="bold">Weathered</text>
<text x="1006.7" y="627.8" font-size="7.2" fill="#4a3a00" textLength="21.6" lengthAdjust="spacing" font-weight="bold">Fresh</text>
<line x1="984.5" y1="176.6" x2="987" y2="176.6" stroke="#777" stroke-width="0.9"/>
<text x="977.7" y="179.8" font-size="7.5" fill="#1a1a1a">0</text>
<line x1="984.5" y1="191.2" x2="987" y2="191.2" stroke="#777" stroke-width="0.9"/>
<text x="970.8" y="194.4" font-size="7.5" fill="#1a1a1a" textLength="11.2" lengthAdjust="spacing">2.5</text>
<line x1="984.5" y1="205.81" x2="987" y2="205.81" stroke="#777" stroke-width="0.9"/>
<text x="977.7" y="209.01" font-size="7.5" fill="#1a1a1a">5</text>
<line x1="984.5" y1="220.41" x2="987" y2="220.41" stroke="#777" stroke-width="0.9"/>
<text x="970.8" y="223.61" font-size="7.5" fill="#1a1a1a" textLength="11.2" lengthAdjust="spacing">7.5</text>
<line x1="984.5" y1="235.02" x2="987" y2="235.02" stroke="#777" stroke-width="0.9"/>
<text x="973.1" y="238.22" font-size="7.5" fill="#1a1a1a" textLength="8.9" lengthAdjust="spacing">10</text>
<line x1="984.5" y1="249.62" x2="987" y2="249.62" stroke="#777" stroke-width="0.9"/>
<text x="966.3" y="252.82" font-size="7.5" fill="#1a1a1a" textLength="15.7" lengthAdjust="spacing">12.5</text>
<line x1="984.5" y1="264.23" x2="987" y2="264.23" stroke="#777" stroke-width="0.9"/>
<text x="973.1" y="267.43" font-size="7.5" fill="#1a1a1a" textLength="8.9" lengthAdjust="spacing">15</text>
<line x1="984.5" y1="278.83" x2="987" y2="278.83" stroke="#777" stroke-width="0.9"/>
<text x="966.3" y="282.03" font-size="7.5" fill="#1a1a1a" textLength="15.7" lengthAdjust="spacing">17.5</text>
<line x1="984.5" y1="293.44" x2="987" y2="293.44" stroke="#777" stroke-width="0.9"/>
<text x="973.1" y="296.64" font-size="7.5" fill="#1a1a1a" textLength="8.9" lengthAdjust="spacing">20</text>
<line x1="984.5" y1="308.04" x2="987" y2="308.04" stroke="#777" stroke-width="0.9"/>
<text x="966.3" y="311.24" font-size="7.5" fill="#1a1a1a" textLength="15.7" lengthAdjust="spacing">22.5</text>
<line x1="984.5" y1="322.65" x2="987" y2="322.65" stroke="#777" stroke-width="0.9"/>
<text x="973.1" y="325.85" font-size="7.5" fill="#1a1a1a" textLength="8.9" lengthAdjust="spacing">25</text>
<line x1="984.5" y1="337.25" x2="987" y2="337.25" stroke="#777" stroke-width="0.9"/>
<text x="966.3" y="340.45" font-size="7.5" fill="#1a1a1a" textLength="15.7" lengthAdjust="spacing">27.5</text>
<line x1="984.5" y1="351.86" x2="987" y2="351.86" stroke="#777" stroke-width="0.9"/>
<text x="973.1" y="355.06" font-size="7.5" fill="#1a1a1a" textLength="8.9" lengthAdjust="spacing">30</text>
<line x1="984.5" y1="366.46" x2="987" y2="366.46" stroke="#777" stroke-width="0.9"/>
<text x="966.3" y="369.66" font-size="7.5" fill="#1a1a1a" textLength="15.7" lengthAdjust="spacing">32.5</text>
<line x1="984.5" y1="381.07" x2="987" y2="381.07" stroke="#777" stroke-width="0.9"/>
<text x="973.1" y="384.27" font-size="7.5" fill="#1a1a1a" textLength="8.9" lengthAdjust="spacing">35</text>
<line x1="984.5" y1="395.67" x2="987" y2="395.67" stroke="#777" stroke-width="0.9"/>
<text x="966.3" y="398.87" font-size="7.5" fill="#1a1a1a" textLength="15.7" lengthAdjust="spacing">37.5</text>
<line x1="984.5" y1="410.28" x2="987" y2="410.28" stroke="#777" stroke-width="0.9"/>
<text x="973.1" y="413.48" font-size="7.5" fill="#1a1a1a" textLength="8.9" lengthAdjust="spacing">40</text>
<line x1="984.5" y1="424.88" x2="987" y2="424.88" stroke="#777" stroke-width="0.9"/>
<text x="966.3" y="428.08" font-size="7.5" fill="#1a1a1a" textLength="15.7" lengthAdjust="spacing">42.5</text>
<line x1="984.5" y1="439.49" x2="987" y2="439.49" stroke="#777" stroke-width="0.9"/>
<text x="973.1" y="442.69" font-size="7.5" fill="#1a1a1a" textLength="8.9" lengthAdjust="spacing">45</text>
<line x1="984.5" y1="454.1" x2="987" y2="454.1" stroke="#777" stroke-width="0.9"/>
<text x="966.3" y="457.3" font-size="7.5" fill="#1a1a1a" textLength="15.7" lengthAdjust="spacing">47.5</text>
<line x1="984.5" y1="468.7" x2="987" y2="468.7" stroke="#777" stroke-width="0.9"/>
<text x="973.1" y="471.9" font-size="7.5" fill="#1a1a1a" textLength="8.9" lengthAdjust="spacing">50</text>
<line x1="984.5" y1="483.3" x2="987" y2="483.3" stroke="#777" stroke-width="0.9"/>
<text x="966.3" y="486.5" font-size="7.5" fill="#1a1a1a" textLength="15.7" lengthAdjust="spacing">52.5</text>
<line x1="984.5" y1="497.91" x2="987" y2="497.91" stroke="#777" stroke-width="0.9"/>
<text x="973.1" y="501.11" font-size="7.5" fill="#1a1a1a" textLength="8.9" lengthAdjust="spacing">55</text>
<line x1="984.5" y1="512.51" x2="987" y2="512.51" stroke="#777" stroke-width="0.9"/>
<text x="966.3" y="515.72" font-size="7.5" fill="#1a1a1a" textLength="15.7" lengthAdjust="spacing">57.5</text>
<line x1="984.5" y1="527.12" x2="987" y2="527.12" stroke="#777" stroke-width="0.9"/>
<text x="973.1" y="530.32" font-size="7.5" fill="#1a1a1a" textLength="8.9" lengthAdjust="spacing">60</text>
<line x1="984.5" y1="541.73" x2="987" y2="541.73" stroke="#777" stroke-width="0.9"/>
<text x="966.3" y="544.93" font-size="7.5" fill="#1a1a1a" textLength="15.7" lengthAdjust="spacing">62.5</text>
<line x1="984.5" y1="556.33" x2="987" y2="556.33" stroke="#777" stroke-width="0.9"/>
<text x="973.1" y="559.53" font-size="7.5" fill="#1a1a1a" textLength="8.9" lengthAdjust="spacing">65</text>
<line x1="984.5" y1="570.93" x2="987" y2="570.93" stroke="#777" stroke-width="0.9"/>
<text x="966.3" y="574.13" font-size="7.5" fill="#1a1a1a" textLength="15.7" lengthAdjust="spacing">67.5</text>
<line x1="984.5" y1="585.54" x2="987" y2="585.54" stroke="#777" stroke-width="0.9"/>
<text x="973.1" y="588.74" font-size="7.5" fill="#1a1a1a" textLength="8.9" lengthAdjust="spacing">70</text>
<line x1="984.5" y1="600.14" x2="987" y2="600.14" stroke="#777" stroke-width="0.9"/>
<text x="966.3" y="603.35" font-size="7.5" fill="#1a1a1a" textLength="15.7" lengthAdjust="spacing">72.5</text>
<line x1="984.5" y1="614.75" x2="987" y2="614.75" stroke="#777" stroke-width="0.9"/>
<text x="973.1" y="617.95" font-size="7.5" fill="#1a1a1a" textLength="8.9" lengthAdjust="spacing">75</text>
<text x="1010.6" y="159.4" font-size="9.4" fill="#333" textLength="13.6" lengthAdjust="spacing">OX</text>
<text x="0" y="0" font-size="8.7" fill="#333" textLength="66" lengthAdjust="spacing" transform="translate(954.6 537.6) rotate(-90)">XYZ1035 Depth</text>
</g></svg></body></html>
